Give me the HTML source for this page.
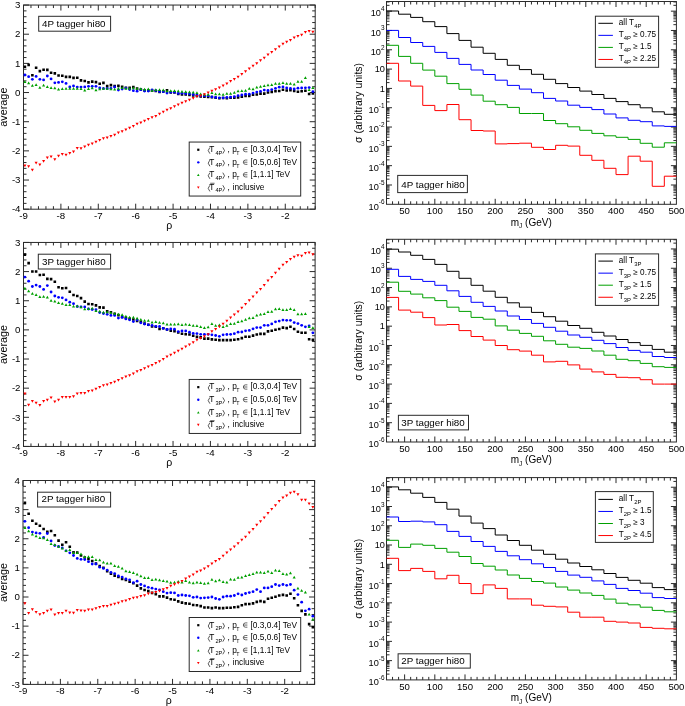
<!DOCTYPE html><html><head><meta charset="utf-8"><style>html,body{margin:0;padding:0;background:#fff;}svg{display:block;will-change:transform;}text{font-family:"Liberation Sans", sans-serif;fill:#000;}</style></head><body>
<svg width="685" height="706" viewBox="0 0 685 706">
<g>
<rect width="685" height="706" fill="#fff"/>
<rect x="23.50" y="5.05" width="291.70" height="204.15" fill="none" stroke="#2b2b2b" stroke-width="1"/>
<path d="M23.50 209.20v-5.50 M23.50 5.05v5.50 M30.98 209.20v-3.00 M30.98 5.05v3.00 M38.46 209.20v-3.00 M38.46 5.05v3.00 M45.94 209.20v-3.00 M45.94 5.05v3.00 M53.42 209.20v-3.00 M53.42 5.05v3.00 M60.90 209.20v-5.50 M60.90 5.05v5.50 M68.38 209.20v-3.00 M68.38 5.05v3.00 M75.86 209.20v-3.00 M75.86 5.05v3.00 M83.34 209.20v-3.00 M83.34 5.05v3.00 M90.82 209.20v-3.00 M90.82 5.05v3.00 M98.29 209.20v-5.50 M98.29 5.05v5.50 M105.77 209.20v-3.00 M105.77 5.05v3.00 M113.25 209.20v-3.00 M113.25 5.05v3.00 M120.73 209.20v-3.00 M120.73 5.05v3.00 M128.21 209.20v-3.00 M128.21 5.05v3.00 M135.69 209.20v-5.50 M135.69 5.05v5.50 M143.17 209.20v-3.00 M143.17 5.05v3.00 M150.65 209.20v-3.00 M150.65 5.05v3.00 M158.13 209.20v-3.00 M158.13 5.05v3.00 M165.61 209.20v-3.00 M165.61 5.05v3.00 M173.09 209.20v-5.50 M173.09 5.05v5.50 M180.57 209.20v-3.00 M180.57 5.05v3.00 M188.05 209.20v-3.00 M188.05 5.05v3.00 M195.53 209.20v-3.00 M195.53 5.05v3.00 M203.01 209.20v-3.00 M203.01 5.05v3.00 M210.49 209.20v-5.50 M210.49 5.05v5.50 M217.97 209.20v-3.00 M217.97 5.05v3.00 M225.45 209.20v-3.00 M225.45 5.05v3.00 M232.93 209.20v-3.00 M232.93 5.05v3.00 M240.41 209.20v-3.00 M240.41 5.05v3.00 M247.88 209.20v-5.50 M247.88 5.05v5.50 M255.36 209.20v-3.00 M255.36 5.05v3.00 M262.84 209.20v-3.00 M262.84 5.05v3.00 M270.32 209.20v-3.00 M270.32 5.05v3.00 M277.80 209.20v-3.00 M277.80 5.05v3.00 M285.28 209.20v-5.50 M285.28 5.05v5.50 M292.76 209.20v-3.00 M292.76 5.05v3.00 M300.24 209.20v-3.00 M300.24 5.05v3.00 M307.72 209.20v-3.00 M307.72 5.05v3.00 M315.20 209.20v-3.00 M315.20 5.05v3.00 M23.50 5.05h5.50 M315.20 5.05h-5.50 M23.50 10.88h3.00 M315.20 10.88h-3.00 M23.50 16.72h3.00 M315.20 16.72h-3.00 M23.50 22.55h3.00 M315.20 22.55h-3.00 M23.50 28.38h3.00 M315.20 28.38h-3.00 M23.50 34.21h5.50 M315.20 34.21h-5.50 M23.50 40.05h3.00 M315.20 40.05h-3.00 M23.50 45.88h3.00 M315.20 45.88h-3.00 M23.50 51.71h3.00 M315.20 51.71h-3.00 M23.50 57.55h3.00 M315.20 57.55h-3.00 M23.50 63.38h5.50 M315.20 63.38h-5.50 M23.50 69.21h3.00 M315.20 69.21h-3.00 M23.50 75.04h3.00 M315.20 75.04h-3.00 M23.50 80.88h3.00 M315.20 80.88h-3.00 M23.50 86.71h3.00 M315.20 86.71h-3.00 M23.50 92.54h5.50 M315.20 92.54h-5.50 M23.50 98.38h3.00 M315.20 98.38h-3.00 M23.50 104.21h3.00 M315.20 104.21h-3.00 M23.50 110.04h3.00 M315.20 110.04h-3.00 M23.50 115.87h3.00 M315.20 115.87h-3.00 M23.50 121.71h5.50 M315.20 121.71h-5.50 M23.50 127.54h3.00 M315.20 127.54h-3.00 M23.50 133.37h3.00 M315.20 133.37h-3.00 M23.50 139.21h3.00 M315.20 139.21h-3.00 M23.50 145.04h3.00 M315.20 145.04h-3.00 M23.50 150.87h5.50 M315.20 150.87h-5.50 M23.50 156.70h3.00 M315.20 156.70h-3.00 M23.50 162.54h3.00 M315.20 162.54h-3.00 M23.50 168.37h3.00 M315.20 168.37h-3.00 M23.50 174.20h3.00 M315.20 174.20h-3.00 M23.50 180.04h5.50 M315.20 180.04h-5.50 M23.50 185.87h3.00 M315.20 185.87h-3.00 M23.50 191.70h3.00 M315.20 191.70h-3.00 M23.50 197.53h3.00 M315.20 197.53h-3.00 M23.50 203.37h3.00 M315.20 203.37h-3.00 M23.50 209.20h5.50 M315.20 209.20h-5.50" stroke="#2b2b2b" stroke-width="1" fill="none"/>
<text x="23.50" y="218.90" font-size="9.7" text-anchor="middle">-9</text>
<text x="60.90" y="218.90" font-size="9.7" text-anchor="middle">-8</text>
<text x="98.29" y="218.90" font-size="9.7" text-anchor="middle">-7</text>
<text x="135.69" y="218.90" font-size="9.7" text-anchor="middle">-6</text>
<text x="173.09" y="218.90" font-size="9.7" text-anchor="middle">-5</text>
<text x="210.49" y="218.90" font-size="9.7" text-anchor="middle">-4</text>
<text x="247.88" y="218.90" font-size="9.7" text-anchor="middle">-3</text>
<text x="285.28" y="218.90" font-size="9.7" text-anchor="middle">-2</text>
<text x="20.50" y="8.25" font-size="9.7" text-anchor="end">3</text>
<text x="20.50" y="37.41" font-size="9.7" text-anchor="end">2</text>
<text x="20.50" y="66.58" font-size="9.7" text-anchor="end">1</text>
<text x="20.50" y="95.74" font-size="9.7" text-anchor="end">0</text>
<text x="20.50" y="124.91" font-size="9.7" text-anchor="end">-1</text>
<text x="20.50" y="154.07" font-size="9.7" text-anchor="end">-2</text>
<text x="20.50" y="183.24" font-size="9.7" text-anchor="end">-3</text>
<text x="20.50" y="212.40" font-size="9.7" text-anchor="end">-4</text>
<text x="169.35" y="228.70" font-size="10.5" text-anchor="middle">ρ</text>
<text x="0" y="0" font-size="10.8" text-anchor="middle" transform="translate(6.9 107.12) rotate(-90)">average</text>
<path d="M23.60 65.40h2.6v2.6h-2.6zM27.34 63.60h2.6v2.6h-2.6zM31.08 73.90h2.6v2.6h-2.6zM34.82 66.50h2.6v2.6h-2.6zM38.56 69.80h2.6v2.6h-2.6zM42.30 68.40h2.6v2.6h-2.6zM46.04 68.60h2.6v2.6h-2.6zM49.78 71.50h2.6v2.6h-2.6zM53.52 72.10h2.6v2.6h-2.6zM57.26 74.20h2.6v2.6h-2.6zM61.00 74.50h2.6v2.6h-2.6zM64.74 75.60h2.6v2.6h-2.6zM68.48 75.60h2.6v2.6h-2.6zM72.22 76.60h2.6v2.6h-2.6zM75.96 76.50h2.6v2.6h-2.6zM79.70 79.10h2.6v2.6h-2.6zM83.44 79.70h2.6v2.6h-2.6zM87.18 81.10h2.6v2.6h-2.6zM90.92 80.30h2.6v2.6h-2.6zM94.66 80.80h2.6v2.6h-2.6zM98.40 82.50h2.6v2.6h-2.6zM102.14 81.60h2.6v2.6h-2.6zM105.88 84.80h2.6v2.6h-2.6zM109.62 83.80h2.6v2.6h-2.6zM113.36 84.80h2.6v2.6h-2.6zM117.10 84.60h2.6v2.6h-2.6zM120.84 85.40h2.6v2.6h-2.6zM124.58 86.50h2.6v2.6h-2.6zM128.32 86.50h2.6v2.6h-2.6zM132.06 85.70h2.6v2.6h-2.6zM135.80 87.20h2.6v2.6h-2.6zM139.54 88.20h2.6v2.6h-2.6zM143.28 89.20h2.6v2.6h-2.6zM147.02 89.20h2.6v2.6h-2.6zM150.76 89.20h2.6v2.6h-2.6zM154.50 89.70h2.6v2.6h-2.6zM158.24 90.60h2.6v2.6h-2.6zM161.98 90.20h2.6v2.6h-2.6zM165.72 89.10h2.6v2.6h-2.6zM169.46 91.20h2.6v2.6h-2.6zM173.20 91.20h2.6v2.6h-2.6zM176.94 92.70h2.6v2.6h-2.6zM180.68 93.20h2.6v2.6h-2.6zM184.42 93.20h2.6v2.6h-2.6zM188.16 93.70h2.6v2.6h-2.6zM191.90 94.20h2.6v2.6h-2.6zM195.64 94.70h2.6v2.6h-2.6zM199.38 95.20h2.6v2.6h-2.6zM203.12 95.30h2.6v2.6h-2.6zM206.86 95.60h2.6v2.6h-2.6zM210.60 95.80h2.6v2.6h-2.6zM214.34 96.50h2.6v2.6h-2.6zM218.08 97.00h2.6v2.6h-2.6zM221.82 96.70h2.6v2.6h-2.6zM225.56 97.00h2.6v2.6h-2.6zM229.30 96.50h2.6v2.6h-2.6zM233.04 96.50h2.6v2.6h-2.6zM236.78 96.10h2.6v2.6h-2.6zM240.52 95.50h2.6v2.6h-2.6zM244.26 94.70h2.6v2.6h-2.6zM248.00 94.60h2.6v2.6h-2.6zM251.74 93.50h2.6v2.6h-2.6zM255.48 93.20h2.6v2.6h-2.6zM259.22 92.30h2.6v2.6h-2.6zM262.96 92.30h2.6v2.6h-2.6zM266.70 91.20h2.6v2.6h-2.6zM270.44 90.60h2.6v2.6h-2.6zM274.18 90.00h2.6v2.6h-2.6zM277.92 89.70h2.6v2.6h-2.6zM281.66 88.50h2.6v2.6h-2.6zM285.40 89.20h2.6v2.6h-2.6zM289.14 88.80h2.6v2.6h-2.6zM292.88 89.70h2.6v2.6h-2.6zM296.62 90.40h2.6v2.6h-2.6zM300.36 90.00h2.6v2.6h-2.6zM304.10 89.40h2.6v2.6h-2.6zM307.84 92.70h2.6v2.6h-2.6zM311.58 92.10h2.6v2.6h-2.6z" fill="#000"/>
<g fill="#0000ff"><circle cx="24.90" cy="75.00" r="1.42"/><circle cx="28.64" cy="76.70" r="1.42"/><circle cx="32.38" cy="79.30" r="1.42"/><circle cx="36.12" cy="76.40" r="1.42"/><circle cx="39.86" cy="79.30" r="1.42"/><circle cx="43.60" cy="79.90" r="1.42"/><circle cx="47.34" cy="76.00" r="1.42"/><circle cx="51.08" cy="78.90" r="1.42"/><circle cx="54.82" cy="82.80" r="1.42"/><circle cx="58.56" cy="82.40" r="1.42"/><circle cx="62.30" cy="81.80" r="1.42"/><circle cx="66.04" cy="83.40" r="1.42"/><circle cx="69.78" cy="86.90" r="1.42"/><circle cx="73.52" cy="85.90" r="1.42"/><circle cx="77.26" cy="87.10" r="1.42"/><circle cx="81.00" cy="87.10" r="1.42"/><circle cx="84.74" cy="86.90" r="1.42"/><circle cx="88.48" cy="86.30" r="1.42"/><circle cx="92.22" cy="86.30" r="1.42"/><circle cx="95.96" cy="86.30" r="1.42"/><circle cx="99.70" cy="88.00" r="1.42"/><circle cx="103.44" cy="88.50" r="1.42"/><circle cx="107.18" cy="88.50" r="1.42"/><circle cx="110.92" cy="88.50" r="1.42"/><circle cx="114.66" cy="87.00" r="1.42"/><circle cx="118.40" cy="90.00" r="1.42"/><circle cx="122.14" cy="89.10" r="1.42"/><circle cx="125.88" cy="88.10" r="1.42"/><circle cx="129.62" cy="89.60" r="1.42"/><circle cx="133.36" cy="90.70" r="1.42"/><circle cx="137.10" cy="91.20" r="1.42"/><circle cx="140.84" cy="89.70" r="1.42"/><circle cx="144.58" cy="91.00" r="1.42"/><circle cx="148.32" cy="91.00" r="1.42"/><circle cx="152.06" cy="90.00" r="1.42"/><circle cx="155.80" cy="90.60" r="1.42"/><circle cx="159.54" cy="91.50" r="1.42"/><circle cx="163.28" cy="91.70" r="1.42"/><circle cx="167.02" cy="93.00" r="1.42"/><circle cx="170.76" cy="92.20" r="1.42"/><circle cx="174.50" cy="92.20" r="1.42"/><circle cx="178.24" cy="93.40" r="1.42"/><circle cx="181.98" cy="93.20" r="1.42"/><circle cx="185.72" cy="93.50" r="1.42"/><circle cx="189.46" cy="93.90" r="1.42"/><circle cx="193.20" cy="94.50" r="1.42"/><circle cx="196.94" cy="95.10" r="1.42"/><circle cx="200.68" cy="95.90" r="1.42"/><circle cx="204.42" cy="95.90" r="1.42"/><circle cx="208.16" cy="95.90" r="1.42"/><circle cx="211.90" cy="96.90" r="1.42"/><circle cx="215.64" cy="97.40" r="1.42"/><circle cx="219.38" cy="97.80" r="1.42"/><circle cx="223.12" cy="97.80" r="1.42"/><circle cx="226.86" cy="97.40" r="1.42"/><circle cx="230.60" cy="97.10" r="1.42"/><circle cx="234.34" cy="96.60" r="1.42"/><circle cx="238.08" cy="95.70" r="1.42"/><circle cx="241.82" cy="95.00" r="1.42"/><circle cx="245.56" cy="94.20" r="1.42"/><circle cx="249.30" cy="94.20" r="1.42"/><circle cx="253.04" cy="93.10" r="1.42"/><circle cx="256.78" cy="92.10" r="1.42"/><circle cx="260.52" cy="91.30" r="1.42"/><circle cx="264.26" cy="90.10" r="1.42"/><circle cx="268.00" cy="90.50" r="1.42"/><circle cx="271.74" cy="89.60" r="1.42"/><circle cx="275.48" cy="88.40" r="1.42"/><circle cx="279.22" cy="87.20" r="1.42"/><circle cx="282.96" cy="86.90" r="1.42"/><circle cx="286.70" cy="88.00" r="1.42"/><circle cx="290.44" cy="88.40" r="1.42"/><circle cx="294.18" cy="89.00" r="1.42"/><circle cx="297.92" cy="88.20" r="1.42"/><circle cx="301.66" cy="88.00" r="1.42"/><circle cx="305.40" cy="87.80" r="1.42"/><circle cx="309.14" cy="87.60" r="1.42"/><circle cx="312.88" cy="91.70" r="1.42"/></g>
<path d="M24.90 80.15l1.55 2.75h-3.1zM28.64 81.55l1.55 2.75h-3.1zM32.38 84.05l1.55 2.75h-3.1zM36.12 83.35l1.55 2.75h-3.1zM39.86 85.95l1.55 2.75h-3.1zM43.60 83.65l1.55 2.75h-3.1zM47.34 85.15l1.55 2.75h-3.1zM51.08 86.35l1.55 2.75h-3.1zM54.82 86.55l1.55 2.75h-3.1zM58.56 87.75l1.55 2.75h-3.1zM62.30 87.15l1.55 2.75h-3.1zM66.04 86.95l1.55 2.75h-3.1zM69.78 86.95l1.55 2.75h-3.1zM73.52 86.95l1.55 2.75h-3.1zM77.26 86.95l1.55 2.75h-3.1zM81.00 87.15l1.55 2.75h-3.1zM84.74 88.65l1.55 2.75h-3.1zM88.48 87.15l1.55 2.75h-3.1zM92.22 86.55l1.55 2.75h-3.1zM95.96 88.45l1.55 2.75h-3.1zM99.70 87.55l1.55 2.75h-3.1zM103.44 87.05l1.55 2.75h-3.1zM107.18 87.05l1.55 2.75h-3.1zM110.92 87.45l1.55 2.75h-3.1zM114.66 87.75l1.55 2.75h-3.1zM118.40 87.05l1.55 2.75h-3.1zM122.14 86.35l1.55 2.75h-3.1zM125.88 87.05l1.55 2.75h-3.1zM129.62 87.05l1.55 2.75h-3.1zM133.36 86.55l1.55 2.75h-3.1zM137.10 87.05l1.55 2.75h-3.1zM140.84 87.15l1.55 2.75h-3.1zM144.58 87.85l1.55 2.75h-3.1zM148.32 87.45l1.55 2.75h-3.1zM152.06 88.95l1.55 2.75h-3.1zM155.80 88.25l1.55 2.75h-3.1zM159.54 88.35l1.55 2.75h-3.1zM163.28 88.55l1.55 2.75h-3.1zM167.02 89.55l1.55 2.75h-3.1zM170.76 89.35l1.55 2.75h-3.1zM174.50 89.35l1.55 2.75h-3.1zM178.24 89.55l1.55 2.75h-3.1zM181.98 89.95l1.55 2.75h-3.1zM185.72 90.15l1.55 2.75h-3.1zM189.46 90.55l1.55 2.75h-3.1zM193.20 90.75l1.55 2.75h-3.1zM196.94 91.35l1.55 2.75h-3.1zM200.68 92.45l1.55 2.75h-3.1zM204.42 93.05l1.55 2.75h-3.1zM208.16 93.05l1.55 2.75h-3.1zM211.90 91.35l1.55 2.75h-3.1zM215.64 92.45l1.55 2.75h-3.1zM219.38 92.45l1.55 2.75h-3.1zM223.12 93.05l1.55 2.75h-3.1zM226.86 91.95l1.55 2.75h-3.1zM230.60 91.95l1.55 2.75h-3.1zM234.34 91.05l1.55 2.75h-3.1zM238.08 89.55l1.55 2.75h-3.1zM241.82 89.25l1.55 2.75h-3.1zM245.56 89.05l1.55 2.75h-3.1zM249.30 86.95l1.55 2.75h-3.1zM253.04 87.55l1.55 2.75h-3.1zM256.78 85.75l1.55 2.75h-3.1zM260.52 84.95l1.55 2.75h-3.1zM264.26 84.35l1.55 2.75h-3.1zM268.00 83.45l1.55 2.75h-3.1zM271.74 83.25l1.55 2.75h-3.1zM275.48 82.05l1.55 2.75h-3.1zM279.22 82.05l1.55 2.75h-3.1zM282.96 81.35l1.55 2.75h-3.1zM286.70 82.05l1.55 2.75h-3.1zM290.44 82.05l1.55 2.75h-3.1zM294.18 82.85l1.55 2.75h-3.1zM297.92 79.95l1.55 2.75h-3.1zM301.66 79.95l1.55 2.75h-3.1zM305.40 76.15l1.55 2.75h-3.1zM309.14 88.15l1.55 2.75h-3.1zM312.88 86.15l1.55 2.75h-3.1z" fill="#00a000"/>
<path d="M24.90 167.35l1.55 -2.75h-3.1zM28.64 168.05l1.55 -2.75h-3.1zM32.38 171.55l1.55 -2.75h-3.1zM36.12 164.55l1.55 -2.75h-3.1zM39.86 166.15l1.55 -2.75h-3.1zM43.60 162.65l1.55 -2.75h-3.1zM47.34 159.35l1.55 -2.75h-3.1zM51.08 158.25l1.55 -2.75h-3.1zM54.82 161.05l1.55 -2.75h-3.1zM58.56 157.55l1.55 -2.75h-3.1zM62.30 155.85l1.55 -2.75h-3.1zM66.04 156.55l1.55 -2.75h-3.1zM69.78 154.75l1.55 -2.75h-3.1zM73.52 153.35l1.55 -2.75h-3.1zM77.26 149.85l1.55 -2.75h-3.1zM81.00 150.05l1.55 -2.75h-3.1zM84.74 148.15l1.55 -2.75h-3.1zM88.48 146.55l1.55 -2.75h-3.1zM92.22 145.15l1.55 -2.75h-3.1zM95.96 143.55l1.55 -2.75h-3.1zM99.70 141.85l1.55 -2.75h-3.1zM103.44 140.05l1.55 -2.75h-3.1zM107.18 139.35l1.55 -2.75h-3.1zM110.92 137.65l1.55 -2.75h-3.1zM114.66 136.45l1.55 -2.75h-3.1zM118.40 134.15l1.55 -2.75h-3.1zM122.14 132.95l1.55 -2.75h-3.1zM125.88 131.15l1.55 -2.75h-3.1zM129.62 129.45l1.55 -2.75h-3.1zM133.36 127.85l1.55 -2.75h-3.1zM137.10 125.55l1.55 -2.75h-3.1zM140.84 124.35l1.55 -2.75h-3.1zM144.58 122.45l1.55 -2.75h-3.1zM148.32 120.65l1.55 -2.75h-3.1zM152.06 118.95l1.55 -2.75h-3.1zM155.80 117.85l1.55 -2.75h-3.1zM159.54 115.45l1.55 -2.75h-3.1zM163.28 113.55l1.55 -2.75h-3.1zM167.02 111.45l1.55 -2.75h-3.1zM170.76 110.05l1.55 -2.75h-3.1zM174.50 107.95l1.55 -2.75h-3.1zM178.24 106.15l1.55 -2.75h-3.1zM181.98 104.45l1.55 -2.75h-3.1zM185.72 102.95l1.55 -2.75h-3.1zM189.46 101.45l1.55 -2.75h-3.1zM193.20 99.75l1.55 -2.75h-3.1zM196.94 98.05l1.55 -2.75h-3.1zM200.68 97.35l1.55 -2.75h-3.1zM204.42 95.95l1.55 -2.75h-3.1zM208.16 94.25l1.55 -2.75h-3.1zM211.90 92.45l1.55 -2.75h-3.1zM215.64 91.05l1.55 -2.75h-3.1zM219.38 89.35l1.55 -2.75h-3.1zM223.12 87.25l1.55 -2.75h-3.1zM226.86 85.25l1.55 -2.75h-3.1zM230.60 82.85l1.55 -2.75h-3.1zM234.34 80.75l1.55 -2.75h-3.1zM238.08 78.45l1.55 -2.75h-3.1zM241.82 75.85l1.55 -2.75h-3.1zM245.56 73.05l1.55 -2.75h-3.1zM249.30 70.35l1.55 -2.75h-3.1zM253.04 67.45l1.55 -2.75h-3.1zM256.78 65.05l1.55 -2.75h-3.1zM260.52 62.05l1.55 -2.75h-3.1zM264.26 59.45l1.55 -2.75h-3.1zM268.00 56.25l1.55 -2.75h-3.1zM271.74 53.65l1.55 -2.75h-3.1zM275.48 51.05l1.55 -2.75h-3.1zM279.22 48.35l1.55 -2.75h-3.1zM282.96 45.45l1.55 -2.75h-3.1zM286.70 43.45l1.55 -2.75h-3.1zM290.44 41.75l1.55 -2.75h-3.1zM294.18 39.35l1.55 -2.75h-3.1zM297.92 37.85l1.55 -2.75h-3.1zM301.66 36.45l1.55 -2.75h-3.1zM305.40 33.75l1.55 -2.75h-3.1zM309.14 32.65l1.55 -2.75h-3.1zM312.88 33.55l1.55 -2.75h-3.1z" fill="#ff0000"/>
<rect x="38.70" y="16.30" width="71.90" height="14.90" fill="#fff" stroke="#2b2b2b" stroke-width="1"/>
<text x="42.00" y="26.70" font-size="9.8">4P tagger hi80</text>
<rect x="189.2" y="142.05" width="111.5" height="54.0" fill="#fff" stroke="#2b2b2b" stroke-width="1"/>
<rect x="197.20" y="148.65" width="2.2" height="2.2" fill="#000"/>
<circle cx="198.3" cy="162.35" r="1.2" fill="#0000ff"/>
<path d="M198.3 173.75l1.3 2.3h-2.6z" fill="#00a000"/>
<path d="M198.3 188.75l1.3 -2.3h-2.6z" fill="#ff0000"/>
<path d="M209.9 147.45L208.2 150.55L209.9 153.65M222.8 147.45L224.5 150.55L222.8 153.65" stroke="#000" stroke-width="0.65" fill="none"/>
<text x="209.3" y="152.05" font-size="8.3">T</text>
<text x="215.4" y="154.65" font-size="5.6">4P</text>
<text x="227.6" y="152.05" font-size="8.3">,</text>
<text x="232.3" y="152.05" font-size="8.3">p</text>
<text x="236.2" y="155.05" font-size="5.3">T</text>
<path d="M247.40 147.45h-1.9a2.15 2.15 0 0 0 0 4.3h1.9M247.40 149.60h-3.8" stroke="#000" stroke-width="0.6" fill="none"/>
<text x="250.5" y="152.05" font-size="8.3">[0.3,0.4] TeV</text>
<path d="M209.9 160.05L208.2 163.15L209.9 166.25M222.8 160.05L224.5 163.15L222.8 166.25" stroke="#000" stroke-width="0.65" fill="none"/>
<text x="209.3" y="164.65" font-size="8.3">T</text>
<text x="215.4" y="167.25" font-size="5.6">4P</text>
<text x="227.6" y="164.65" font-size="8.3">,</text>
<text x="232.3" y="164.65" font-size="8.3">p</text>
<text x="236.2" y="167.65" font-size="5.3">T</text>
<path d="M247.40 160.05h-1.9a2.15 2.15 0 0 0 0 4.3h1.9M247.40 162.20h-3.8" stroke="#000" stroke-width="0.6" fill="none"/>
<text x="250.5" y="164.65" font-size="8.3">[0.5,0.6] TeV</text>
<path d="M209.9 172.65L208.2 175.75L209.9 178.85M222.8 172.65L224.5 175.75L222.8 178.85" stroke="#000" stroke-width="0.65" fill="none"/>
<text x="209.3" y="177.25" font-size="8.3">T</text>
<text x="215.4" y="179.85" font-size="5.6">4P</text>
<text x="227.6" y="177.25" font-size="8.3">,</text>
<text x="232.3" y="177.25" font-size="8.3">p</text>
<text x="236.2" y="180.25" font-size="5.3">T</text>
<path d="M247.40 172.65h-1.9a2.15 2.15 0 0 0 0 4.3h1.9M247.40 174.80h-3.8" stroke="#000" stroke-width="0.6" fill="none"/>
<text x="250.5" y="177.25" font-size="8.3">[1,1.1] TeV</text>
<path d="M209.9 185.25L208.2 188.35L209.9 191.45M222.8 185.25L224.5 188.35L222.8 191.45" stroke="#000" stroke-width="0.65" fill="none"/>
<text x="209.3" y="189.85" font-size="8.3">T</text>
<text x="215.4" y="192.45" font-size="5.6">4P</text>
<text x="227.6" y="189.85" font-size="8.3">,</text>
<path d="M210.2 183.25h4.4" stroke="#000" stroke-width="0.6"/>
<text x="232.6" y="189.85" font-size="8.3">inclusive</text>
<rect x="23.50" y="242.45" width="291.60" height="204.00" fill="none" stroke="#2b2b2b" stroke-width="1"/>
<path d="M23.50 446.45v-5.50 M23.50 242.45v5.50 M30.98 446.45v-3.00 M30.98 242.45v3.00 M38.45 446.45v-3.00 M38.45 242.45v3.00 M45.93 446.45v-3.00 M45.93 242.45v3.00 M53.41 446.45v-3.00 M53.41 242.45v3.00 M60.88 446.45v-5.50 M60.88 242.45v5.50 M68.36 446.45v-3.00 M68.36 242.45v3.00 M75.84 446.45v-3.00 M75.84 242.45v3.00 M83.32 446.45v-3.00 M83.32 242.45v3.00 M90.79 446.45v-3.00 M90.79 242.45v3.00 M98.27 446.45v-5.50 M98.27 242.45v5.50 M105.75 446.45v-3.00 M105.75 242.45v3.00 M113.22 446.45v-3.00 M113.22 242.45v3.00 M120.70 446.45v-3.00 M120.70 242.45v3.00 M128.18 446.45v-3.00 M128.18 242.45v3.00 M135.65 446.45v-5.50 M135.65 242.45v5.50 M143.13 446.45v-3.00 M143.13 242.45v3.00 M150.61 446.45v-3.00 M150.61 242.45v3.00 M158.08 446.45v-3.00 M158.08 242.45v3.00 M165.56 446.45v-3.00 M165.56 242.45v3.00 M173.04 446.45v-5.50 M173.04 242.45v5.50 M180.52 446.45v-3.00 M180.52 242.45v3.00 M187.99 446.45v-3.00 M187.99 242.45v3.00 M195.47 446.45v-3.00 M195.47 242.45v3.00 M202.95 446.45v-3.00 M202.95 242.45v3.00 M210.42 446.45v-5.50 M210.42 242.45v5.50 M217.90 446.45v-3.00 M217.90 242.45v3.00 M225.38 446.45v-3.00 M225.38 242.45v3.00 M232.85 446.45v-3.00 M232.85 242.45v3.00 M240.33 446.45v-3.00 M240.33 242.45v3.00 M247.81 446.45v-5.50 M247.81 242.45v5.50 M255.28 446.45v-3.00 M255.28 242.45v3.00 M262.76 446.45v-3.00 M262.76 242.45v3.00 M270.24 446.45v-3.00 M270.24 242.45v3.00 M277.72 446.45v-3.00 M277.72 242.45v3.00 M285.19 446.45v-5.50 M285.19 242.45v5.50 M292.67 446.45v-3.00 M292.67 242.45v3.00 M300.15 446.45v-3.00 M300.15 242.45v3.00 M307.62 446.45v-3.00 M307.62 242.45v3.00 M315.10 446.45v-3.00 M315.10 242.45v3.00 M23.50 242.45h5.50 M315.10 242.45h-5.50 M23.50 248.28h3.00 M315.10 248.28h-3.00 M23.50 254.11h3.00 M315.10 254.11h-3.00 M23.50 259.94h3.00 M315.10 259.94h-3.00 M23.50 265.76h3.00 M315.10 265.76h-3.00 M23.50 271.59h5.50 M315.10 271.59h-5.50 M23.50 277.42h3.00 M315.10 277.42h-3.00 M23.50 283.25h3.00 M315.10 283.25h-3.00 M23.50 289.08h3.00 M315.10 289.08h-3.00 M23.50 294.91h3.00 M315.10 294.91h-3.00 M23.50 300.74h5.50 M315.10 300.74h-5.50 M23.50 306.56h3.00 M315.10 306.56h-3.00 M23.50 312.39h3.00 M315.10 312.39h-3.00 M23.50 318.22h3.00 M315.10 318.22h-3.00 M23.50 324.05h3.00 M315.10 324.05h-3.00 M23.50 329.88h5.50 M315.10 329.88h-5.50 M23.50 335.71h3.00 M315.10 335.71h-3.00 M23.50 341.54h3.00 M315.10 341.54h-3.00 M23.50 347.36h3.00 M315.10 347.36h-3.00 M23.50 353.19h3.00 M315.10 353.19h-3.00 M23.50 359.02h5.50 M315.10 359.02h-5.50 M23.50 364.85h3.00 M315.10 364.85h-3.00 M23.50 370.68h3.00 M315.10 370.68h-3.00 M23.50 376.51h3.00 M315.10 376.51h-3.00 M23.50 382.34h3.00 M315.10 382.34h-3.00 M23.50 388.16h5.50 M315.10 388.16h-5.50 M23.50 393.99h3.00 M315.10 393.99h-3.00 M23.50 399.82h3.00 M315.10 399.82h-3.00 M23.50 405.65h3.00 M315.10 405.65h-3.00 M23.50 411.48h3.00 M315.10 411.48h-3.00 M23.50 417.31h5.50 M315.10 417.31h-5.50 M23.50 423.14h3.00 M315.10 423.14h-3.00 M23.50 428.96h3.00 M315.10 428.96h-3.00 M23.50 434.79h3.00 M315.10 434.79h-3.00 M23.50 440.62h3.00 M315.10 440.62h-3.00 M23.50 446.45h5.50 M315.10 446.45h-5.50" stroke="#2b2b2b" stroke-width="1" fill="none"/>
<text x="23.50" y="456.15" font-size="9.7" text-anchor="middle">-9</text>
<text x="60.88" y="456.15" font-size="9.7" text-anchor="middle">-8</text>
<text x="98.27" y="456.15" font-size="9.7" text-anchor="middle">-7</text>
<text x="135.65" y="456.15" font-size="9.7" text-anchor="middle">-6</text>
<text x="173.04" y="456.15" font-size="9.7" text-anchor="middle">-5</text>
<text x="210.42" y="456.15" font-size="9.7" text-anchor="middle">-4</text>
<text x="247.81" y="456.15" font-size="9.7" text-anchor="middle">-3</text>
<text x="285.19" y="456.15" font-size="9.7" text-anchor="middle">-2</text>
<text x="20.50" y="245.65" font-size="9.7" text-anchor="end">3</text>
<text x="20.50" y="274.79" font-size="9.7" text-anchor="end">2</text>
<text x="20.50" y="303.94" font-size="9.7" text-anchor="end">1</text>
<text x="20.50" y="333.08" font-size="9.7" text-anchor="end">0</text>
<text x="20.50" y="362.22" font-size="9.7" text-anchor="end">-1</text>
<text x="20.50" y="391.36" font-size="9.7" text-anchor="end">-2</text>
<text x="20.50" y="420.51" font-size="9.7" text-anchor="end">-3</text>
<text x="20.50" y="449.65" font-size="9.7" text-anchor="end">-4</text>
<text x="169.30" y="465.95" font-size="10.5" text-anchor="middle">ρ</text>
<text x="0" y="0" font-size="10.8" text-anchor="middle" transform="translate(6.9 344.45) rotate(-90)">average</text>
<path d="M23.60 253.30h2.6v2.6h-2.6zM27.34 261.80h2.6v2.6h-2.6zM31.08 270.20h2.6v2.6h-2.6zM34.82 270.20h2.6v2.6h-2.6zM38.56 273.70h2.6v2.6h-2.6zM42.30 273.50h2.6v2.6h-2.6zM46.04 277.60h2.6v2.6h-2.6zM49.78 277.80h2.6v2.6h-2.6zM53.52 280.50h2.6v2.6h-2.6zM57.26 286.00h2.6v2.6h-2.6zM61.00 286.90h2.6v2.6h-2.6zM64.74 286.70h2.6v2.6h-2.6zM68.48 290.40h2.6v2.6h-2.6zM72.22 293.70h2.6v2.6h-2.6zM75.96 294.70h2.6v2.6h-2.6zM79.70 296.80h2.6v2.6h-2.6zM83.44 300.30h2.6v2.6h-2.6zM87.18 302.70h2.6v2.6h-2.6zM90.92 303.00h2.6v2.6h-2.6zM94.66 304.10h2.6v2.6h-2.6zM98.40 306.10h2.6v2.6h-2.6zM102.14 306.30h2.6v2.6h-2.6zM105.88 310.10h2.6v2.6h-2.6zM109.62 311.00h2.6v2.6h-2.6zM113.36 312.40h2.6v2.6h-2.6zM117.10 313.80h2.6v2.6h-2.6zM120.84 315.70h2.6v2.6h-2.6zM124.58 316.50h2.6v2.6h-2.6zM128.32 317.60h2.6v2.6h-2.6zM132.06 318.20h2.6v2.6h-2.6zM135.80 319.60h2.6v2.6h-2.6zM139.54 320.60h2.6v2.6h-2.6zM143.28 322.30h2.6v2.6h-2.6zM147.02 323.50h2.6v2.6h-2.6zM150.76 325.20h2.6v2.6h-2.6zM154.50 325.50h2.6v2.6h-2.6zM158.24 327.60h2.6v2.6h-2.6zM161.98 327.00h2.6v2.6h-2.6zM165.72 328.20h2.6v2.6h-2.6zM169.46 329.40h2.6v2.6h-2.6zM173.20 329.80h2.6v2.6h-2.6zM176.94 331.20h2.6v2.6h-2.6zM180.68 332.40h2.6v2.6h-2.6zM184.42 333.00h2.6v2.6h-2.6zM188.16 333.20h2.6v2.6h-2.6zM191.90 334.40h2.6v2.6h-2.6zM195.64 335.60h2.6v2.6h-2.6zM199.38 336.10h2.6v2.6h-2.6zM203.12 337.30h2.6v2.6h-2.6zM206.86 337.30h2.6v2.6h-2.6zM210.60 338.10h2.6v2.6h-2.6zM214.34 338.50h2.6v2.6h-2.6zM218.08 338.80h2.6v2.6h-2.6zM221.82 338.80h2.6v2.6h-2.6zM225.56 338.80h2.6v2.6h-2.6zM229.30 338.80h2.6v2.6h-2.6zM233.04 338.50h2.6v2.6h-2.6zM236.78 337.90h2.6v2.6h-2.6zM240.52 336.80h2.6v2.6h-2.6zM244.26 335.50h2.6v2.6h-2.6zM248.00 335.50h2.6v2.6h-2.6zM251.74 334.30h2.6v2.6h-2.6zM255.48 333.20h2.6v2.6h-2.6zM259.22 332.60h2.6v2.6h-2.6zM262.96 332.60h2.6v2.6h-2.6zM266.70 330.10h2.6v2.6h-2.6zM270.44 329.40h2.6v2.6h-2.6zM274.18 328.40h2.6v2.6h-2.6zM277.92 327.70h2.6v2.6h-2.6zM281.66 326.30h2.6v2.6h-2.6zM285.40 326.80h2.6v2.6h-2.6zM289.14 325.50h2.6v2.6h-2.6zM292.88 327.70h2.6v2.6h-2.6zM296.62 330.40h2.6v2.6h-2.6zM300.36 331.50h2.6v2.6h-2.6zM304.10 331.50h2.6v2.6h-2.6zM307.84 337.90h2.6v2.6h-2.6zM311.58 338.60h2.6v2.6h-2.6z" fill="#000"/>
<g fill="#0000ff"><circle cx="24.90" cy="277.10" r="1.42"/><circle cx="28.64" cy="281.20" r="1.42"/><circle cx="32.38" cy="286.50" r="1.42"/><circle cx="36.12" cy="285.10" r="1.42"/><circle cx="39.86" cy="286.50" r="1.42"/><circle cx="43.60" cy="289.40" r="1.42"/><circle cx="47.34" cy="285.60" r="1.42"/><circle cx="51.08" cy="292.00" r="1.42"/><circle cx="54.82" cy="296.00" r="1.42"/><circle cx="58.56" cy="297.30" r="1.42"/><circle cx="62.30" cy="297.80" r="1.42"/><circle cx="66.04" cy="299.90" r="1.42"/><circle cx="69.78" cy="302.20" r="1.42"/><circle cx="73.52" cy="303.70" r="1.42"/><circle cx="77.26" cy="306.50" r="1.42"/><circle cx="81.00" cy="306.90" r="1.42"/><circle cx="84.74" cy="306.90" r="1.42"/><circle cx="88.48" cy="309.00" r="1.42"/><circle cx="92.22" cy="309.50" r="1.42"/><circle cx="95.96" cy="309.70" r="1.42"/><circle cx="99.70" cy="312.50" r="1.42"/><circle cx="103.44" cy="313.50" r="1.42"/><circle cx="107.18" cy="314.30" r="1.42"/><circle cx="110.92" cy="315.40" r="1.42"/><circle cx="114.66" cy="315.40" r="1.42"/><circle cx="118.40" cy="318.10" r="1.42"/><circle cx="122.14" cy="317.40" r="1.42"/><circle cx="125.88" cy="318.90" r="1.42"/><circle cx="129.62" cy="319.80" r="1.42"/><circle cx="133.36" cy="321.60" r="1.42"/><circle cx="137.10" cy="320.10" r="1.42"/><circle cx="140.84" cy="322.80" r="1.42"/><circle cx="144.58" cy="324.00" r="1.42"/><circle cx="148.32" cy="324.80" r="1.42"/><circle cx="152.06" cy="325.40" r="1.42"/><circle cx="155.80" cy="326.30" r="1.42"/><circle cx="159.54" cy="326.50" r="1.42"/><circle cx="163.28" cy="328.30" r="1.42"/><circle cx="167.02" cy="329.50" r="1.42"/><circle cx="170.76" cy="329.00" r="1.42"/><circle cx="174.50" cy="329.20" r="1.42"/><circle cx="178.24" cy="331.60" r="1.42"/><circle cx="181.98" cy="331.00" r="1.42"/><circle cx="185.72" cy="331.00" r="1.42"/><circle cx="189.46" cy="332.20" r="1.42"/><circle cx="193.20" cy="333.40" r="1.42"/><circle cx="196.94" cy="333.60" r="1.42"/><circle cx="200.68" cy="334.30" r="1.42"/><circle cx="204.42" cy="334.30" r="1.42"/><circle cx="208.16" cy="334.30" r="1.42"/><circle cx="211.90" cy="334.80" r="1.42"/><circle cx="215.64" cy="335.50" r="1.42"/><circle cx="219.38" cy="336.30" r="1.42"/><circle cx="223.12" cy="334.80" r="1.42"/><circle cx="226.86" cy="334.50" r="1.42"/><circle cx="230.60" cy="334.30" r="1.42"/><circle cx="234.34" cy="333.70" r="1.42"/><circle cx="238.08" cy="332.20" r="1.42"/><circle cx="241.82" cy="332.00" r="1.42"/><circle cx="245.56" cy="330.80" r="1.42"/><circle cx="249.30" cy="330.40" r="1.42"/><circle cx="253.04" cy="328.80" r="1.42"/><circle cx="256.78" cy="327.60" r="1.42"/><circle cx="260.52" cy="327.60" r="1.42"/><circle cx="264.26" cy="325.30" r="1.42"/><circle cx="268.00" cy="325.30" r="1.42"/><circle cx="271.74" cy="323.90" r="1.42"/><circle cx="275.48" cy="321.80" r="1.42"/><circle cx="279.22" cy="321.10" r="1.42"/><circle cx="282.96" cy="320.10" r="1.42"/><circle cx="286.70" cy="320.30" r="1.42"/><circle cx="290.44" cy="320.30" r="1.42"/><circle cx="294.18" cy="322.60" r="1.42"/><circle cx="297.92" cy="323.60" r="1.42"/><circle cx="301.66" cy="325.30" r="1.42"/><circle cx="305.40" cy="326.80" r="1.42"/><circle cx="309.14" cy="326.00" r="1.42"/><circle cx="312.88" cy="332.80" r="1.42"/></g>
<path d="M24.90 286.75l1.55 2.75h-3.1zM28.64 289.45l1.55 2.75h-3.1zM32.38 292.05l1.55 2.75h-3.1zM36.12 293.15l1.55 2.75h-3.1zM39.86 295.25l1.55 2.75h-3.1zM43.60 294.95l1.55 2.75h-3.1zM47.34 295.75l1.55 2.75h-3.1zM51.08 299.05l1.55 2.75h-3.1zM54.82 299.85l1.55 2.75h-3.1zM58.56 301.35l1.55 2.75h-3.1zM62.30 301.95l1.55 2.75h-3.1zM66.04 303.35l1.55 2.75h-3.1zM69.78 303.15l1.55 2.75h-3.1zM73.52 304.85l1.55 2.75h-3.1zM77.26 304.55l1.55 2.75h-3.1zM81.00 305.45l1.55 2.75h-3.1zM84.74 307.55l1.55 2.75h-3.1zM88.48 307.15l1.55 2.75h-3.1zM92.22 306.65l1.55 2.75h-3.1zM95.96 309.15l1.55 2.75h-3.1zM99.70 309.75l1.55 2.75h-3.1zM103.44 310.85l1.55 2.75h-3.1zM107.18 310.55l1.55 2.75h-3.1zM110.92 311.05l1.55 2.75h-3.1zM114.66 312.05l1.55 2.75h-3.1zM118.40 312.85l1.55 2.75h-3.1zM122.14 313.15l1.55 2.75h-3.1zM125.88 314.85l1.55 2.75h-3.1zM129.62 315.75l1.55 2.75h-3.1zM133.36 315.75l1.55 2.75h-3.1zM137.10 316.65l1.55 2.75h-3.1zM140.84 318.05l1.55 2.75h-3.1zM144.58 319.05l1.55 2.75h-3.1zM148.32 319.05l1.55 2.75h-3.1zM152.06 320.65l1.55 2.75h-3.1zM155.80 320.15l1.55 2.75h-3.1zM159.54 320.95l1.55 2.75h-3.1zM163.28 321.55l1.55 2.75h-3.1zM167.02 322.75l1.55 2.75h-3.1zM170.76 322.75l1.55 2.75h-3.1zM174.50 322.75l1.55 2.75h-3.1zM178.24 322.55l1.55 2.75h-3.1zM181.98 323.15l1.55 2.75h-3.1zM185.72 322.75l1.55 2.75h-3.1zM189.46 323.15l1.55 2.75h-3.1zM193.20 323.95l1.55 2.75h-3.1zM196.94 324.35l1.55 2.75h-3.1zM200.68 325.15l1.55 2.75h-3.1zM204.42 326.35l1.55 2.75h-3.1zM208.16 325.45l1.55 2.75h-3.1zM211.90 322.35l1.55 2.75h-3.1zM215.64 323.95l1.55 2.75h-3.1zM219.38 323.45l1.55 2.75h-3.1zM223.12 325.15l1.55 2.75h-3.1zM226.86 323.95l1.55 2.75h-3.1zM230.60 322.35l1.55 2.75h-3.1zM234.34 321.95l1.55 2.75h-3.1zM238.08 320.25l1.55 2.75h-3.1zM241.82 319.45l1.55 2.75h-3.1zM245.56 318.05l1.55 2.75h-3.1zM249.30 316.45l1.55 2.75h-3.1zM253.04 316.15l1.55 2.75h-3.1zM256.78 313.65l1.55 2.75h-3.1zM260.52 312.65l1.55 2.75h-3.1zM264.26 312.25l1.55 2.75h-3.1zM268.00 310.35l1.55 2.75h-3.1zM271.74 310.05l1.55 2.75h-3.1zM275.48 307.55l1.55 2.75h-3.1zM279.22 307.25l1.55 2.75h-3.1zM282.96 308.25l1.55 2.75h-3.1zM286.70 308.35l1.55 2.75h-3.1zM290.44 307.25l1.55 2.75h-3.1zM294.18 308.35l1.55 2.75h-3.1zM297.92 312.55l1.55 2.75h-3.1zM301.66 312.55l1.55 2.75h-3.1zM305.40 312.25l1.55 2.75h-3.1zM309.14 325.35l1.55 2.75h-3.1zM312.88 326.35l1.55 2.75h-3.1z" fill="#00a000"/>
<path d="M24.90 395.15l1.55 -2.75h-3.1zM28.64 406.45l1.55 -2.75h-3.1zM32.38 402.65l1.55 -2.75h-3.1zM36.12 404.55l1.55 -2.75h-3.1zM39.86 406.85l1.55 -2.75h-3.1zM43.60 402.65l1.55 -2.75h-3.1zM47.34 401.45l1.55 -2.75h-3.1zM51.08 399.15l1.55 -2.75h-3.1zM54.82 403.35l1.55 -2.75h-3.1zM58.56 401.45l1.55 -2.75h-3.1zM62.30 398.65l1.55 -2.75h-3.1zM66.04 398.65l1.55 -2.75h-3.1zM69.78 398.65l1.55 -2.75h-3.1zM73.52 397.95l1.55 -2.75h-3.1zM77.26 395.15l1.55 -2.75h-3.1zM81.00 394.75l1.55 -2.75h-3.1zM84.74 394.75l1.55 -2.75h-3.1zM88.48 392.85l1.55 -2.75h-3.1zM92.22 392.35l1.55 -2.75h-3.1zM95.96 390.55l1.55 -2.75h-3.1zM99.70 388.85l1.55 -2.75h-3.1zM103.44 387.05l1.55 -2.75h-3.1zM107.18 386.35l1.55 -2.75h-3.1zM110.92 384.65l1.55 -2.75h-3.1zM114.66 383.55l1.55 -2.75h-3.1zM118.40 381.65l1.55 -2.75h-3.1zM122.14 380.05l1.55 -2.75h-3.1zM125.88 378.35l1.55 -2.75h-3.1zM129.62 376.95l1.55 -2.75h-3.1zM133.36 375.35l1.55 -2.75h-3.1zM137.10 372.95l1.55 -2.75h-3.1zM140.84 371.85l1.55 -2.75h-3.1zM144.58 369.95l1.55 -2.75h-3.1zM148.32 368.35l1.55 -2.75h-3.1zM152.06 366.65l1.55 -2.75h-3.1zM155.80 364.85l1.55 -2.75h-3.1zM159.54 362.95l1.55 -2.75h-3.1zM163.28 360.65l1.55 -2.75h-3.1zM167.02 358.25l1.55 -2.75h-3.1zM170.76 356.55l1.55 -2.75h-3.1zM174.50 354.45l1.55 -2.75h-3.1zM178.24 352.45l1.55 -2.75h-3.1zM181.98 350.55l1.55 -2.75h-3.1zM185.72 348.25l1.55 -2.75h-3.1zM189.46 346.15l1.55 -2.75h-3.1zM193.20 343.95l1.55 -2.75h-3.1zM196.94 341.55l1.55 -2.75h-3.1zM200.68 339.85l1.55 -2.75h-3.1zM204.42 338.05l1.55 -2.75h-3.1zM208.16 335.95l1.55 -2.75h-3.1zM211.90 333.05l1.55 -2.75h-3.1zM215.64 330.75l1.55 -2.75h-3.1zM219.38 328.35l1.55 -2.75h-3.1zM223.12 325.45l1.55 -2.75h-3.1zM226.86 322.55l1.55 -2.75h-3.1zM230.60 319.35l1.55 -2.75h-3.1zM234.34 316.35l1.55 -2.75h-3.1zM238.08 313.25l1.55 -2.75h-3.1zM241.82 309.45l1.55 -2.75h-3.1zM245.56 305.65l1.55 -2.75h-3.1zM249.30 301.95l1.55 -2.75h-3.1zM253.04 298.15l1.55 -2.75h-3.1zM256.78 294.35l1.55 -2.75h-3.1zM260.52 290.65l1.55 -2.75h-3.1zM264.26 286.85l1.55 -2.75h-3.1zM268.00 282.25l1.55 -2.75h-3.1zM271.74 278.75l1.55 -2.75h-3.1zM275.48 274.45l1.55 -2.75h-3.1zM279.22 270.55l1.55 -2.75h-3.1zM282.96 266.55l1.55 -2.75h-3.1zM286.70 263.75l1.55 -2.75h-3.1zM290.44 260.65l1.55 -2.75h-3.1zM294.18 258.45l1.55 -2.75h-3.1zM297.92 257.05l1.55 -2.75h-3.1zM301.66 257.45l1.55 -2.75h-3.1zM305.40 254.65l1.55 -2.75h-3.1zM309.14 254.25l1.55 -2.75h-3.1zM312.88 256.05l1.55 -2.75h-3.1z" fill="#ff0000"/>
<rect x="38.30" y="254.20" width="72.30" height="14.80" fill="#fff" stroke="#2b2b2b" stroke-width="1"/>
<text x="42.10" y="264.70" font-size="9.8">3P tagger hi80</text>
<rect x="189.2" y="379.45" width="111.5" height="54.0" fill="#fff" stroke="#2b2b2b" stroke-width="1"/>
<rect x="197.20" y="386.05" width="2.2" height="2.2" fill="#000"/>
<circle cx="198.3" cy="399.75" r="1.2" fill="#0000ff"/>
<path d="M198.3 411.15l1.3 2.3h-2.6z" fill="#00a000"/>
<path d="M198.3 426.15l1.3 -2.3h-2.6z" fill="#ff0000"/>
<path d="M209.9 384.85L208.2 387.95L209.9 391.05M222.8 384.85L224.5 387.95L222.8 391.05" stroke="#000" stroke-width="0.65" fill="none"/>
<text x="209.3" y="389.45" font-size="8.3">T</text>
<text x="215.4" y="392.05" font-size="5.6">3P</text>
<text x="227.6" y="389.45" font-size="8.3">,</text>
<text x="232.3" y="389.45" font-size="8.3">p</text>
<text x="236.2" y="392.45" font-size="5.3">T</text>
<path d="M247.40 384.85h-1.9a2.15 2.15 0 0 0 0 4.3h1.9M247.40 387.00h-3.8" stroke="#000" stroke-width="0.6" fill="none"/>
<text x="250.5" y="389.45" font-size="8.3">[0.3,0.4] TeV</text>
<path d="M209.9 397.45L208.2 400.55L209.9 403.65M222.8 397.45L224.5 400.55L222.8 403.65" stroke="#000" stroke-width="0.65" fill="none"/>
<text x="209.3" y="402.05" font-size="8.3">T</text>
<text x="215.4" y="404.65" font-size="5.6">3P</text>
<text x="227.6" y="402.05" font-size="8.3">,</text>
<text x="232.3" y="402.05" font-size="8.3">p</text>
<text x="236.2" y="405.05" font-size="5.3">T</text>
<path d="M247.40 397.45h-1.9a2.15 2.15 0 0 0 0 4.3h1.9M247.40 399.60h-3.8" stroke="#000" stroke-width="0.6" fill="none"/>
<text x="250.5" y="402.05" font-size="8.3">[0.5,0.6] TeV</text>
<path d="M209.9 410.05L208.2 413.15L209.9 416.25M222.8 410.05L224.5 413.15L222.8 416.25" stroke="#000" stroke-width="0.65" fill="none"/>
<text x="209.3" y="414.65" font-size="8.3">T</text>
<text x="215.4" y="417.25" font-size="5.6">3P</text>
<text x="227.6" y="414.65" font-size="8.3">,</text>
<text x="232.3" y="414.65" font-size="8.3">p</text>
<text x="236.2" y="417.65" font-size="5.3">T</text>
<path d="M247.40 410.05h-1.9a2.15 2.15 0 0 0 0 4.3h1.9M247.40 412.20h-3.8" stroke="#000" stroke-width="0.6" fill="none"/>
<text x="250.5" y="414.65" font-size="8.3">[1,1.1] TeV</text>
<path d="M209.9 422.65L208.2 425.75L209.9 428.85M222.8 422.65L224.5 425.75L222.8 428.85" stroke="#000" stroke-width="0.65" fill="none"/>
<text x="209.3" y="427.25" font-size="8.3">T</text>
<text x="215.4" y="429.85" font-size="5.6">3P</text>
<text x="227.6" y="427.25" font-size="8.3">,</text>
<path d="M210.2 420.65h4.4" stroke="#000" stroke-width="0.6"/>
<text x="232.6" y="427.25" font-size="8.3">inclusive</text>
<rect x="23.00" y="480.50" width="291.60" height="203.90" fill="none" stroke="#2b2b2b" stroke-width="1"/>
<path d="M23.00 684.40v-5.50 M23.00 480.50v5.50 M30.48 684.40v-3.00 M30.48 480.50v3.00 M37.95 684.40v-3.00 M37.95 480.50v3.00 M45.43 684.40v-3.00 M45.43 480.50v3.00 M52.91 684.40v-3.00 M52.91 480.50v3.00 M60.38 684.40v-5.50 M60.38 480.50v5.50 M67.86 684.40v-3.00 M67.86 480.50v3.00 M75.34 684.40v-3.00 M75.34 480.50v3.00 M82.82 684.40v-3.00 M82.82 480.50v3.00 M90.29 684.40v-3.00 M90.29 480.50v3.00 M97.77 684.40v-5.50 M97.77 480.50v5.50 M105.25 684.40v-3.00 M105.25 480.50v3.00 M112.72 684.40v-3.00 M112.72 480.50v3.00 M120.20 684.40v-3.00 M120.20 480.50v3.00 M127.68 684.40v-3.00 M127.68 480.50v3.00 M135.15 684.40v-5.50 M135.15 480.50v5.50 M142.63 684.40v-3.00 M142.63 480.50v3.00 M150.11 684.40v-3.00 M150.11 480.50v3.00 M157.58 684.40v-3.00 M157.58 480.50v3.00 M165.06 684.40v-3.00 M165.06 480.50v3.00 M172.54 684.40v-5.50 M172.54 480.50v5.50 M180.02 684.40v-3.00 M180.02 480.50v3.00 M187.49 684.40v-3.00 M187.49 480.50v3.00 M194.97 684.40v-3.00 M194.97 480.50v3.00 M202.45 684.40v-3.00 M202.45 480.50v3.00 M209.92 684.40v-5.50 M209.92 480.50v5.50 M217.40 684.40v-3.00 M217.40 480.50v3.00 M224.88 684.40v-3.00 M224.88 480.50v3.00 M232.35 684.40v-3.00 M232.35 480.50v3.00 M239.83 684.40v-3.00 M239.83 480.50v3.00 M247.31 684.40v-5.50 M247.31 480.50v5.50 M254.78 684.40v-3.00 M254.78 480.50v3.00 M262.26 684.40v-3.00 M262.26 480.50v3.00 M269.74 684.40v-3.00 M269.74 480.50v3.00 M277.22 684.40v-3.00 M277.22 480.50v3.00 M284.69 684.40v-5.50 M284.69 480.50v5.50 M292.17 684.40v-3.00 M292.17 480.50v3.00 M299.65 684.40v-3.00 M299.65 480.50v3.00 M307.12 684.40v-3.00 M307.12 480.50v3.00 M314.60 684.40v-3.00 M314.60 480.50v3.00 M23.00 480.50h5.50 M314.60 480.50h-5.50 M23.00 486.33h3.00 M314.60 486.33h-3.00 M23.00 492.15h3.00 M314.60 492.15h-3.00 M23.00 497.98h3.00 M314.60 497.98h-3.00 M23.00 503.80h3.00 M314.60 503.80h-3.00 M23.00 509.63h5.50 M314.60 509.63h-5.50 M23.00 515.45h3.00 M314.60 515.45h-3.00 M23.00 521.28h3.00 M314.60 521.28h-3.00 M23.00 527.11h3.00 M314.60 527.11h-3.00 M23.00 532.93h3.00 M314.60 532.93h-3.00 M23.00 538.76h5.50 M314.60 538.76h-5.50 M23.00 544.58h3.00 M314.60 544.58h-3.00 M23.00 550.41h3.00 M314.60 550.41h-3.00 M23.00 556.23h3.00 M314.60 556.23h-3.00 M23.00 562.06h3.00 M314.60 562.06h-3.00 M23.00 567.89h5.50 M314.60 567.89h-5.50 M23.00 573.71h3.00 M314.60 573.71h-3.00 M23.00 579.54h3.00 M314.60 579.54h-3.00 M23.00 585.36h3.00 M314.60 585.36h-3.00 M23.00 591.19h3.00 M314.60 591.19h-3.00 M23.00 597.01h5.50 M314.60 597.01h-5.50 M23.00 602.84h3.00 M314.60 602.84h-3.00 M23.00 608.67h3.00 M314.60 608.67h-3.00 M23.00 614.49h3.00 M314.60 614.49h-3.00 M23.00 620.32h3.00 M314.60 620.32h-3.00 M23.00 626.14h5.50 M314.60 626.14h-5.50 M23.00 631.97h3.00 M314.60 631.97h-3.00 M23.00 637.79h3.00 M314.60 637.79h-3.00 M23.00 643.62h3.00 M314.60 643.62h-3.00 M23.00 649.45h3.00 M314.60 649.45h-3.00 M23.00 655.27h5.50 M314.60 655.27h-5.50 M23.00 661.10h3.00 M314.60 661.10h-3.00 M23.00 666.92h3.00 M314.60 666.92h-3.00 M23.00 672.75h3.00 M314.60 672.75h-3.00 M23.00 678.57h3.00 M314.60 678.57h-3.00 M23.00 684.40h5.50 M314.60 684.40h-5.50" stroke="#2b2b2b" stroke-width="1" fill="none"/>
<text x="23.00" y="694.10" font-size="9.7" text-anchor="middle">-9</text>
<text x="60.38" y="694.10" font-size="9.7" text-anchor="middle">-8</text>
<text x="97.77" y="694.10" font-size="9.7" text-anchor="middle">-7</text>
<text x="135.15" y="694.10" font-size="9.7" text-anchor="middle">-6</text>
<text x="172.54" y="694.10" font-size="9.7" text-anchor="middle">-5</text>
<text x="209.92" y="694.10" font-size="9.7" text-anchor="middle">-4</text>
<text x="247.31" y="694.10" font-size="9.7" text-anchor="middle">-3</text>
<text x="284.69" y="694.10" font-size="9.7" text-anchor="middle">-2</text>
<text x="20.00" y="483.70" font-size="9.7" text-anchor="end">4</text>
<text x="20.00" y="512.83" font-size="9.7" text-anchor="end">3</text>
<text x="20.00" y="541.96" font-size="9.7" text-anchor="end">2</text>
<text x="20.00" y="571.09" font-size="9.7" text-anchor="end">1</text>
<text x="20.00" y="600.21" font-size="9.7" text-anchor="end">0</text>
<text x="20.00" y="629.34" font-size="9.7" text-anchor="end">-1</text>
<text x="20.00" y="658.47" font-size="9.7" text-anchor="end">-2</text>
<text x="20.00" y="687.60" font-size="9.7" text-anchor="end">-3</text>
<text x="168.80" y="703.90" font-size="10.5" text-anchor="middle">ρ</text>
<text x="0" y="0" font-size="10.8" text-anchor="middle" transform="translate(6.9 582.45) rotate(-90)">average</text>
<path d="M23.60 501.60h2.6v2.6h-2.6zM27.34 512.50h2.6v2.6h-2.6zM31.08 519.50h2.6v2.6h-2.6zM34.82 522.40h2.6v2.6h-2.6zM38.56 524.40h2.6v2.6h-2.6zM42.30 527.70h2.6v2.6h-2.6zM46.04 530.50h2.6v2.6h-2.6zM49.78 529.70h2.6v2.6h-2.6zM53.52 534.00h2.6v2.6h-2.6zM57.26 539.30h2.6v2.6h-2.6zM61.00 543.40h2.6v2.6h-2.6zM64.74 541.00h2.6v2.6h-2.6zM68.48 545.40h2.6v2.6h-2.6zM72.22 551.00h2.6v2.6h-2.6zM75.96 551.30h2.6v2.6h-2.6zM79.70 554.20h2.6v2.6h-2.6zM83.44 556.20h2.6v2.6h-2.6zM87.18 557.70h2.6v2.6h-2.6zM90.92 559.70h2.6v2.6h-2.6zM94.66 562.30h2.6v2.6h-2.6zM98.40 564.70h2.6v2.6h-2.6zM102.14 566.50h2.6v2.6h-2.6zM105.88 570.00h2.6v2.6h-2.6zM109.62 572.30h2.6v2.6h-2.6zM113.36 574.30h2.6v2.6h-2.6zM117.10 575.70h2.6v2.6h-2.6zM120.84 577.60h2.6v2.6h-2.6zM124.58 578.70h2.6v2.6h-2.6zM128.32 580.50h2.6v2.6h-2.6zM132.06 582.00h2.6v2.6h-2.6zM135.80 584.30h2.6v2.6h-2.6zM139.54 587.10h2.6v2.6h-2.6zM143.28 588.70h2.6v2.6h-2.6zM147.02 589.80h2.6v2.6h-2.6zM150.76 591.60h2.6v2.6h-2.6zM154.50 592.80h2.6v2.6h-2.6zM158.24 595.10h2.6v2.6h-2.6zM161.98 595.10h2.6v2.6h-2.6zM165.72 596.30h2.6v2.6h-2.6zM169.46 598.00h2.6v2.6h-2.6zM173.20 598.40h2.6v2.6h-2.6zM176.94 600.10h2.6v2.6h-2.6zM180.68 601.30h2.6v2.6h-2.6zM184.42 602.10h2.6v2.6h-2.6zM188.16 602.50h2.6v2.6h-2.6zM191.90 603.70h2.6v2.6h-2.6zM195.64 603.90h2.6v2.6h-2.6zM199.38 604.80h2.6v2.6h-2.6zM203.12 606.20h2.6v2.6h-2.6zM206.86 606.20h2.6v2.6h-2.6zM210.60 606.80h2.6v2.6h-2.6zM214.34 606.20h2.6v2.6h-2.6zM218.08 606.80h2.6v2.6h-2.6zM221.82 606.80h2.6v2.6h-2.6zM225.56 606.50h2.6v2.6h-2.6zM229.30 606.50h2.6v2.6h-2.6zM233.04 606.00h2.6v2.6h-2.6zM236.78 605.60h2.6v2.6h-2.6zM240.52 604.00h2.6v2.6h-2.6zM244.26 602.80h2.6v2.6h-2.6zM248.00 602.70h2.6v2.6h-2.6zM251.74 602.10h2.6v2.6h-2.6zM255.48 600.60h2.6v2.6h-2.6zM259.22 599.80h2.6v2.6h-2.6zM262.96 600.60h2.6v2.6h-2.6zM266.70 597.40h2.6v2.6h-2.6zM270.44 596.50h2.6v2.6h-2.6zM274.18 595.40h2.6v2.6h-2.6zM277.92 594.20h2.6v2.6h-2.6zM281.66 593.60h2.6v2.6h-2.6zM285.40 594.20h2.6v2.6h-2.6zM289.14 592.50h2.6v2.6h-2.6zM292.88 596.90h2.6v2.6h-2.6zM296.62 603.90h2.6v2.6h-2.6zM300.36 609.60h2.6v2.6h-2.6zM304.10 613.10h2.6v2.6h-2.6zM307.84 622.80h2.6v2.6h-2.6zM311.58 626.00h2.6v2.6h-2.6z" fill="#000"/>
<g fill="#0000ff"><circle cx="24.90" cy="521.30" r="1.42"/><circle cx="28.64" cy="527.70" r="1.42"/><circle cx="32.38" cy="532.10" r="1.42"/><circle cx="36.12" cy="532.90" r="1.42"/><circle cx="39.86" cy="533.30" r="1.42"/><circle cx="43.60" cy="537.40" r="1.42"/><circle cx="47.34" cy="533.50" r="1.42"/><circle cx="51.08" cy="540.90" r="1.42"/><circle cx="54.82" cy="545.50" r="1.42"/><circle cx="58.56" cy="546.50" r="1.42"/><circle cx="62.30" cy="547.90" r="1.42"/><circle cx="66.04" cy="550.80" r="1.42"/><circle cx="69.78" cy="552.80" r="1.42"/><circle cx="73.52" cy="555.50" r="1.42"/><circle cx="77.26" cy="558.40" r="1.42"/><circle cx="81.00" cy="559.30" r="1.42"/><circle cx="84.74" cy="559.60" r="1.42"/><circle cx="88.48" cy="561.70" r="1.42"/><circle cx="92.22" cy="564.00" r="1.42"/><circle cx="95.96" cy="564.00" r="1.42"/><circle cx="99.70" cy="567.20" r="1.42"/><circle cx="103.44" cy="568.40" r="1.42"/><circle cx="107.18" cy="570.10" r="1.42"/><circle cx="110.92" cy="572.40" r="1.42"/><circle cx="114.66" cy="573.60" r="1.42"/><circle cx="118.40" cy="575.90" r="1.42"/><circle cx="122.14" cy="577.10" r="1.42"/><circle cx="125.88" cy="578.90" r="1.42"/><circle cx="129.62" cy="579.80" r="1.42"/><circle cx="133.36" cy="582.60" r="1.42"/><circle cx="137.10" cy="581.20" r="1.42"/><circle cx="140.84" cy="584.50" r="1.42"/><circle cx="144.58" cy="585.90" r="1.42"/><circle cx="148.32" cy="587.30" r="1.42"/><circle cx="152.06" cy="588.20" r="1.42"/><circle cx="155.80" cy="589.10" r="1.42"/><circle cx="159.54" cy="590.00" r="1.42"/><circle cx="163.28" cy="591.70" r="1.42"/><circle cx="167.02" cy="593.10" r="1.42"/><circle cx="170.76" cy="592.70" r="1.42"/><circle cx="174.50" cy="592.90" r="1.42"/><circle cx="178.24" cy="595.50" r="1.42"/><circle cx="181.98" cy="595.00" r="1.42"/><circle cx="185.72" cy="595.50" r="1.42"/><circle cx="189.46" cy="595.80" r="1.42"/><circle cx="193.20" cy="597.30" r="1.42"/><circle cx="196.94" cy="597.00" r="1.42"/><circle cx="200.68" cy="598.10" r="1.42"/><circle cx="204.42" cy="597.80" r="1.42"/><circle cx="208.16" cy="597.60" r="1.42"/><circle cx="211.90" cy="597.00" r="1.42"/><circle cx="215.64" cy="598.50" r="1.42"/><circle cx="219.38" cy="599.30" r="1.42"/><circle cx="223.12" cy="597.00" r="1.42"/><circle cx="226.86" cy="596.20" r="1.42"/><circle cx="230.60" cy="596.20" r="1.42"/><circle cx="234.34" cy="595.50" r="1.42"/><circle cx="238.08" cy="593.80" r="1.42"/><circle cx="241.82" cy="595.00" r="1.42"/><circle cx="245.56" cy="593.50" r="1.42"/><circle cx="249.30" cy="592.60" r="1.42"/><circle cx="253.04" cy="591.70" r="1.42"/><circle cx="256.78" cy="589.60" r="1.42"/><circle cx="260.52" cy="591.70" r="1.42"/><circle cx="264.26" cy="587.90" r="1.42"/><circle cx="268.00" cy="587.90" r="1.42"/><circle cx="271.74" cy="586.70" r="1.42"/><circle cx="275.48" cy="584.50" r="1.42"/><circle cx="279.22" cy="585.60" r="1.42"/><circle cx="282.96" cy="584.50" r="1.42"/><circle cx="286.70" cy="585.30" r="1.42"/><circle cx="290.44" cy="584.50" r="1.42"/><circle cx="294.18" cy="590.20" r="1.42"/><circle cx="297.92" cy="594.60" r="1.42"/><circle cx="301.66" cy="602.20" r="1.42"/><circle cx="305.40" cy="610.80" r="1.42"/><circle cx="309.14" cy="609.20" r="1.42"/><circle cx="312.88" cy="616.20" r="1.42"/></g>
<path d="M24.90 526.35l1.55 2.75h-3.1zM28.64 529.45l1.55 2.75h-3.1zM32.38 532.65l1.55 2.75h-3.1zM36.12 534.55l1.55 2.75h-3.1zM39.86 536.15l1.55 2.75h-3.1zM43.60 536.55l1.55 2.75h-3.1zM47.34 538.25l1.55 2.75h-3.1zM51.08 542.35l1.55 2.75h-3.1zM54.82 543.25l1.55 2.75h-3.1zM58.56 545.05l1.55 2.75h-3.1zM62.30 546.65l1.55 2.75h-3.1zM66.04 549.35l1.55 2.75h-3.1zM69.78 548.15l1.55 2.75h-3.1zM73.52 551.15l1.55 2.75h-3.1zM77.26 551.35l1.55 2.75h-3.1zM81.00 552.55l1.55 2.75h-3.1zM84.74 555.15l1.55 2.75h-3.1zM88.48 555.15l1.55 2.75h-3.1zM92.22 555.15l1.55 2.75h-3.1zM95.96 558.15l1.55 2.75h-3.1zM99.70 558.55l1.55 2.75h-3.1zM103.44 560.85l1.55 2.75h-3.1zM107.18 561.65l1.55 2.75h-3.1zM110.92 561.65l1.55 2.75h-3.1zM114.66 564.35l1.55 2.75h-3.1zM118.40 564.95l1.55 2.75h-3.1zM122.14 566.65l1.55 2.75h-3.1zM125.88 569.45l1.55 2.75h-3.1zM129.62 570.15l1.55 2.75h-3.1zM133.36 571.35l1.55 2.75h-3.1zM137.10 572.75l1.55 2.75h-3.1zM140.84 574.45l1.55 2.75h-3.1zM144.58 576.25l1.55 2.75h-3.1zM148.32 576.25l1.55 2.75h-3.1zM152.06 578.25l1.55 2.75h-3.1zM155.80 577.65l1.55 2.75h-3.1zM159.54 578.55l1.55 2.75h-3.1zM163.28 579.15l1.55 2.75h-3.1zM167.02 579.75l1.55 2.75h-3.1zM170.76 581.05l1.55 2.75h-3.1zM174.50 580.65l1.55 2.75h-3.1zM178.24 579.95l1.55 2.75h-3.1zM181.98 580.65l1.55 2.75h-3.1zM185.72 579.15l1.55 2.75h-3.1zM189.46 580.65l1.55 2.75h-3.1zM193.20 581.55l1.55 2.75h-3.1zM196.94 580.65l1.55 2.75h-3.1zM200.68 581.15l1.55 2.75h-3.1zM204.42 582.05l1.55 2.75h-3.1zM208.16 581.55l1.55 2.75h-3.1zM211.90 578.05l1.55 2.75h-3.1zM215.64 579.55l1.55 2.75h-3.1zM219.38 578.55l1.55 2.75h-3.1zM223.12 580.35l1.55 2.75h-3.1zM226.86 580.65l1.55 2.75h-3.1zM230.60 577.65l1.55 2.75h-3.1zM234.34 578.05l1.55 2.75h-3.1zM238.08 576.05l1.55 2.75h-3.1zM241.82 575.85l1.55 2.75h-3.1zM245.56 574.15l1.55 2.75h-3.1zM249.30 573.35l1.55 2.75h-3.1zM253.04 572.15l1.55 2.75h-3.1zM256.78 570.65l1.55 2.75h-3.1zM260.52 570.65l1.55 2.75h-3.1zM264.26 571.35l1.55 2.75h-3.1zM268.00 569.85l1.55 2.75h-3.1zM271.74 571.25l1.55 2.75h-3.1zM275.48 568.65l1.55 2.75h-3.1zM279.22 569.25l1.55 2.75h-3.1zM282.96 572.15l1.55 2.75h-3.1zM286.70 572.75l1.55 2.75h-3.1zM290.44 571.55l1.55 2.75h-3.1zM294.18 575.65l1.55 2.75h-3.1zM297.92 586.75l1.55 2.75h-3.1zM301.66 589.05l1.55 2.75h-3.1zM305.40 590.85l1.55 2.75h-3.1zM309.14 612.65l1.55 2.75h-3.1zM312.88 617.85l1.55 2.75h-3.1z" fill="#00a000"/>
<path d="M24.90 605.05l1.55 -2.75h-3.1zM28.64 614.75l1.55 -2.75h-3.1zM32.38 610.95l1.55 -2.75h-3.1zM36.12 613.85l1.55 -2.75h-3.1zM39.86 616.05l1.55 -2.75h-3.1zM43.60 614.75l1.55 -2.75h-3.1zM47.34 612.55l1.55 -2.75h-3.1zM51.08 611.35l1.55 -2.75h-3.1zM54.82 616.15l1.55 -2.75h-3.1zM58.56 614.75l1.55 -2.75h-3.1zM62.30 614.75l1.55 -2.75h-3.1zM66.04 612.45l1.55 -2.75h-3.1zM69.78 614.25l1.55 -2.75h-3.1zM73.52 614.55l1.55 -2.75h-3.1zM77.26 611.85l1.55 -2.75h-3.1zM81.00 612.15l1.55 -2.75h-3.1zM84.74 612.45l1.55 -2.75h-3.1zM88.48 611.35l1.55 -2.75h-3.1zM92.22 611.35l1.55 -2.75h-3.1zM95.96 609.95l1.55 -2.75h-3.1zM99.70 608.85l1.55 -2.75h-3.1zM103.44 607.75l1.55 -2.75h-3.1zM107.18 607.75l1.55 -2.75h-3.1zM110.92 606.45l1.55 -2.75h-3.1zM114.66 605.45l1.55 -2.75h-3.1zM118.40 604.45l1.55 -2.75h-3.1zM122.14 603.05l1.55 -2.75h-3.1zM125.88 602.25l1.55 -2.75h-3.1zM129.62 600.75l1.55 -2.75h-3.1zM133.36 599.55l1.55 -2.75h-3.1zM137.10 599.05l1.55 -2.75h-3.1zM140.84 597.85l1.55 -2.75h-3.1zM144.58 596.95l1.55 -2.75h-3.1zM148.32 595.25l1.55 -2.75h-3.1zM152.06 594.55l1.55 -2.75h-3.1zM155.80 593.75l1.55 -2.75h-3.1zM159.54 592.55l1.55 -2.75h-3.1zM163.28 591.05l1.55 -2.75h-3.1zM167.02 589.65l1.55 -2.75h-3.1zM170.76 587.55l1.55 -2.75h-3.1zM174.50 585.95l1.55 -2.75h-3.1zM178.24 584.45l1.55 -2.75h-3.1zM181.98 582.65l1.55 -2.75h-3.1zM185.72 580.35l1.55 -2.75h-3.1zM189.46 578.25l1.55 -2.75h-3.1zM193.20 576.25l1.55 -2.75h-3.1zM196.94 573.55l1.55 -2.75h-3.1zM200.68 572.35l1.55 -2.75h-3.1zM204.42 570.35l1.55 -2.75h-3.1zM208.16 568.05l1.55 -2.75h-3.1zM211.90 565.35l1.55 -2.75h-3.1zM215.64 562.85l1.55 -2.75h-3.1zM219.38 560.65l1.55 -2.75h-3.1zM223.12 557.55l1.55 -2.75h-3.1zM226.86 554.35l1.55 -2.75h-3.1zM230.60 551.35l1.55 -2.75h-3.1zM234.34 548.25l1.55 -2.75h-3.1zM238.08 544.95l1.55 -2.75h-3.1zM241.82 541.55l1.55 -2.75h-3.1zM245.56 538.45l1.55 -2.75h-3.1zM249.30 534.35l1.55 -2.75h-3.1zM253.04 530.75l1.55 -2.75h-3.1zM256.78 526.45l1.55 -2.75h-3.1zM260.52 522.95l1.55 -2.75h-3.1zM264.26 519.15l1.55 -2.75h-3.1zM268.00 514.75l1.55 -2.75h-3.1zM271.74 510.65l1.55 -2.75h-3.1zM275.48 506.95l1.55 -2.75h-3.1zM279.22 502.85l1.55 -2.75h-3.1zM282.96 499.25l1.55 -2.75h-3.1zM286.70 497.25l1.55 -2.75h-3.1zM290.44 494.55l1.55 -2.75h-3.1zM294.18 493.45l1.55 -2.75h-3.1zM297.92 496.05l1.55 -2.75h-3.1zM301.66 501.55l1.55 -2.75h-3.1zM305.40 501.55l1.55 -2.75h-3.1zM309.14 505.15l1.55 -2.75h-3.1zM312.88 508.65l1.55 -2.75h-3.1z" fill="#ff0000"/>
<rect x="37.60" y="492.20" width="73.00" height="14.80" fill="#fff" stroke="#2b2b2b" stroke-width="1"/>
<text x="41.60" y="502.40" font-size="9.8">2P tagger hi80</text>
<rect x="189.2" y="617.50" width="111.5" height="54.0" fill="#fff" stroke="#2b2b2b" stroke-width="1"/>
<rect x="197.20" y="624.10" width="2.2" height="2.2" fill="#000"/>
<circle cx="198.3" cy="637.80" r="1.2" fill="#0000ff"/>
<path d="M198.3 649.20l1.3 2.3h-2.6z" fill="#00a000"/>
<path d="M198.3 664.20l1.3 -2.3h-2.6z" fill="#ff0000"/>
<path d="M209.9 622.90L208.2 626.00L209.9 629.10M222.8 622.90L224.5 626.00L222.8 629.10" stroke="#000" stroke-width="0.65" fill="none"/>
<text x="209.3" y="627.50" font-size="8.3">T</text>
<text x="215.4" y="630.10" font-size="5.6">2P</text>
<text x="227.6" y="627.50" font-size="8.3">,</text>
<text x="232.3" y="627.50" font-size="8.3">p</text>
<text x="236.2" y="630.50" font-size="5.3">T</text>
<path d="M247.40 622.90h-1.9a2.15 2.15 0 0 0 0 4.3h1.9M247.40 625.05h-3.8" stroke="#000" stroke-width="0.6" fill="none"/>
<text x="250.5" y="627.50" font-size="8.3">[0.3,0.4] TeV</text>
<path d="M209.9 635.50L208.2 638.60L209.9 641.70M222.8 635.50L224.5 638.60L222.8 641.70" stroke="#000" stroke-width="0.65" fill="none"/>
<text x="209.3" y="640.10" font-size="8.3">T</text>
<text x="215.4" y="642.70" font-size="5.6">2P</text>
<text x="227.6" y="640.10" font-size="8.3">,</text>
<text x="232.3" y="640.10" font-size="8.3">p</text>
<text x="236.2" y="643.10" font-size="5.3">T</text>
<path d="M247.40 635.50h-1.9a2.15 2.15 0 0 0 0 4.3h1.9M247.40 637.65h-3.8" stroke="#000" stroke-width="0.6" fill="none"/>
<text x="250.5" y="640.10" font-size="8.3">[0.5,0.6] TeV</text>
<path d="M209.9 648.10L208.2 651.20L209.9 654.30M222.8 648.10L224.5 651.20L222.8 654.30" stroke="#000" stroke-width="0.65" fill="none"/>
<text x="209.3" y="652.70" font-size="8.3">T</text>
<text x="215.4" y="655.30" font-size="5.6">2P</text>
<text x="227.6" y="652.70" font-size="8.3">,</text>
<text x="232.3" y="652.70" font-size="8.3">p</text>
<text x="236.2" y="655.70" font-size="5.3">T</text>
<path d="M247.40 648.10h-1.9a2.15 2.15 0 0 0 0 4.3h1.9M247.40 650.25h-3.8" stroke="#000" stroke-width="0.6" fill="none"/>
<text x="250.5" y="652.70" font-size="8.3">[1,1.1] TeV</text>
<path d="M209.9 660.70L208.2 663.80L209.9 666.90M222.8 660.70L224.5 663.80L222.8 666.90" stroke="#000" stroke-width="0.65" fill="none"/>
<text x="209.3" y="665.30" font-size="8.3">T</text>
<text x="215.4" y="667.90" font-size="5.6">2P</text>
<text x="227.6" y="665.30" font-size="8.3">,</text>
<path d="M210.2 658.70h4.4" stroke="#000" stroke-width="0.6"/>
<text x="232.6" y="665.30" font-size="8.3">inclusive</text>
<rect x="386.50" y="1.50" width="289.90" height="202.80" fill="none" stroke="#2b2b2b" stroke-width="1"/>
<path d="M392.54 204.30v-3.00 M392.54 1.50v3.00 M398.58 204.30v-3.00 M398.58 1.50v3.00 M404.62 204.30v-5.50 M404.62 1.50v5.50 M410.66 204.30v-3.00 M410.66 1.50v3.00 M416.70 204.30v-3.00 M416.70 1.50v3.00 M422.74 204.30v-3.00 M422.74 1.50v3.00 M428.78 204.30v-3.00 M428.78 1.50v3.00 M434.82 204.30v-5.50 M434.82 1.50v5.50 M440.86 204.30v-3.00 M440.86 1.50v3.00 M446.90 204.30v-3.00 M446.90 1.50v3.00 M452.94 204.30v-3.00 M452.94 1.50v3.00 M458.98 204.30v-3.00 M458.98 1.50v3.00 M465.01 204.30v-5.50 M465.01 1.50v5.50 M471.05 204.30v-3.00 M471.05 1.50v3.00 M477.09 204.30v-3.00 M477.09 1.50v3.00 M483.13 204.30v-3.00 M483.13 1.50v3.00 M489.17 204.30v-3.00 M489.17 1.50v3.00 M495.21 204.30v-5.50 M495.21 1.50v5.50 M501.25 204.30v-3.00 M501.25 1.50v3.00 M507.29 204.30v-3.00 M507.29 1.50v3.00 M513.33 204.30v-3.00 M513.33 1.50v3.00 M519.37 204.30v-3.00 M519.37 1.50v3.00 M525.41 204.30v-5.50 M525.41 1.50v5.50 M531.45 204.30v-3.00 M531.45 1.50v3.00 M537.49 204.30v-3.00 M537.49 1.50v3.00 M543.53 204.30v-3.00 M543.53 1.50v3.00 M549.57 204.30v-3.00 M549.57 1.50v3.00 M555.61 204.30v-5.50 M555.61 1.50v5.50 M561.65 204.30v-3.00 M561.65 1.50v3.00 M567.69 204.30v-3.00 M567.69 1.50v3.00 M573.73 204.30v-3.00 M573.73 1.50v3.00 M579.77 204.30v-3.00 M579.77 1.50v3.00 M585.81 204.30v-5.50 M585.81 1.50v5.50 M591.85 204.30v-3.00 M591.85 1.50v3.00 M597.89 204.30v-3.00 M597.89 1.50v3.00 M603.92 204.30v-3.00 M603.92 1.50v3.00 M609.96 204.30v-3.00 M609.96 1.50v3.00 M616.00 204.30v-5.50 M616.00 1.50v5.50 M622.04 204.30v-3.00 M622.04 1.50v3.00 M628.08 204.30v-3.00 M628.08 1.50v3.00 M634.12 204.30v-3.00 M634.12 1.50v3.00 M640.16 204.30v-3.00 M640.16 1.50v3.00 M646.20 204.30v-5.50 M646.20 1.50v5.50 M652.24 204.30v-3.00 M652.24 1.50v3.00 M658.28 204.30v-3.00 M658.28 1.50v3.00 M664.32 204.30v-3.00 M664.32 1.50v3.00 M670.36 204.30v-3.00 M670.36 1.50v3.00 M386.50 198.49h3.00 M676.40 198.49h-3.00 M386.50 195.08h3.00 M676.40 195.08h-3.00 M386.50 192.67h3.00 M676.40 192.67h-3.00 M386.50 190.80h3.00 M676.40 190.80h-3.00 M386.50 189.27h3.00 M676.40 189.27h-3.00 M386.50 187.98h3.00 M676.40 187.98h-3.00 M386.50 186.86h3.00 M676.40 186.86h-3.00 M386.50 185.87h3.00 M676.40 185.87h-3.00 M386.50 184.99h5.50 M676.40 184.99h-5.50 M386.50 179.17h3.00 M676.40 179.17h-3.00 M386.50 175.77h3.00 M676.40 175.77h-3.00 M386.50 173.36h3.00 M676.40 173.36h-3.00 M386.50 171.49h3.00 M676.40 171.49h-3.00 M386.50 169.96h3.00 M676.40 169.96h-3.00 M386.50 168.66h3.00 M676.40 168.66h-3.00 M386.50 167.54h3.00 M676.40 167.54h-3.00 M386.50 166.56h3.00 M676.40 166.56h-3.00 M386.50 165.67h5.50 M676.40 165.67h-5.50 M386.50 159.86h3.00 M676.40 159.86h-3.00 M386.50 156.46h3.00 M676.40 156.46h-3.00 M386.50 154.04h3.00 M676.40 154.04h-3.00 M386.50 152.17h3.00 M676.40 152.17h-3.00 M386.50 150.64h3.00 M676.40 150.64h-3.00 M386.50 149.35h3.00 M676.40 149.35h-3.00 M386.50 148.23h3.00 M676.40 148.23h-3.00 M386.50 147.24h3.00 M676.40 147.24h-3.00 M386.50 146.36h5.50 M676.40 146.36h-5.50 M386.50 140.54h3.00 M676.40 140.54h-3.00 M386.50 137.14h3.00 M676.40 137.14h-3.00 M386.50 134.73h3.00 M676.40 134.73h-3.00 M386.50 132.86h3.00 M676.40 132.86h-3.00 M386.50 131.33h3.00 M676.40 131.33h-3.00 M386.50 130.03h3.00 M676.40 130.03h-3.00 M386.50 128.91h3.00 M676.40 128.91h-3.00 M386.50 127.93h3.00 M676.40 127.93h-3.00 M386.50 127.04h5.50 M676.40 127.04h-5.50 M386.50 121.23h3.00 M676.40 121.23h-3.00 M386.50 117.83h3.00 M676.40 117.83h-3.00 M386.50 115.41h3.00 M676.40 115.41h-3.00 M386.50 113.54h3.00 M676.40 113.54h-3.00 M386.50 112.01h3.00 M676.40 112.01h-3.00 M386.50 110.72h3.00 M676.40 110.72h-3.00 M386.50 109.60h3.00 M676.40 109.60h-3.00 M386.50 108.61h3.00 M676.40 108.61h-3.00 M386.50 107.73h5.50 M676.40 107.73h-5.50 M386.50 101.91h3.00 M676.40 101.91h-3.00 M386.50 98.51h3.00 M676.40 98.51h-3.00 M386.50 96.10h3.00 M676.40 96.10h-3.00 M386.50 94.23h3.00 M676.40 94.23h-3.00 M386.50 92.70h3.00 M676.40 92.70h-3.00 M386.50 91.41h3.00 M676.40 91.41h-3.00 M386.50 90.29h3.00 M676.40 90.29h-3.00 M386.50 89.30h3.00 M676.40 89.30h-3.00 M386.50 88.41h5.50 M676.40 88.41h-5.50 M386.50 82.60h3.00 M676.40 82.60h-3.00 M386.50 79.20h3.00 M676.40 79.20h-3.00 M386.50 76.79h3.00 M676.40 76.79h-3.00 M386.50 74.91h3.00 M676.40 74.91h-3.00 M386.50 73.38h3.00 M676.40 73.38h-3.00 M386.50 72.09h3.00 M676.40 72.09h-3.00 M386.50 70.97h3.00 M676.40 70.97h-3.00 M386.50 69.98h3.00 M676.40 69.98h-3.00 M386.50 69.10h5.50 M676.40 69.10h-5.50 M386.50 63.29h3.00 M676.40 63.29h-3.00 M386.50 59.88h3.00 M676.40 59.88h-3.00 M386.50 57.47h3.00 M676.40 57.47h-3.00 M386.50 55.60h3.00 M676.40 55.60h-3.00 M386.50 54.07h3.00 M676.40 54.07h-3.00 M386.50 52.78h3.00 M676.40 52.78h-3.00 M386.50 51.66h3.00 M676.40 51.66h-3.00 M386.50 50.67h3.00 M676.40 50.67h-3.00 M386.50 49.79h5.50 M676.40 49.79h-5.50 M386.50 43.97h3.00 M676.40 43.97h-3.00 M386.50 40.57h3.00 M676.40 40.57h-3.00 M386.50 38.16h3.00 M676.40 38.16h-3.00 M386.50 36.29h3.00 M676.40 36.29h-3.00 M386.50 34.76h3.00 M676.40 34.76h-3.00 M386.50 33.46h3.00 M676.40 33.46h-3.00 M386.50 32.34h3.00 M676.40 32.34h-3.00 M386.50 31.36h3.00 M676.40 31.36h-3.00 M386.50 30.47h5.50 M676.40 30.47h-5.50 M386.50 24.66h3.00 M676.40 24.66h-3.00 M386.50 21.26h3.00 M676.40 21.26h-3.00 M386.50 18.84h3.00 M676.40 18.84h-3.00 M386.50 16.97h3.00 M676.40 16.97h-3.00 M386.50 15.44h3.00 M676.40 15.44h-3.00 M386.50 14.15h3.00 M676.40 14.15h-3.00 M386.50 13.03h3.00 M676.40 13.03h-3.00 M386.50 12.04h3.00 M676.40 12.04h-3.00 M386.50 11.16h5.50 M676.40 11.16h-5.50 M386.50 5.34h3.00 M676.40 5.34h-3.00 M386.50 1.94h3.00 M676.40 1.94h-3.00" stroke="#2b2b2b" stroke-width="1" fill="none"/>
<text x="404.62" y="214.30" font-size="9.6" text-anchor="middle">50</text>
<text x="434.82" y="214.30" font-size="9.6" text-anchor="middle">100</text>
<text x="465.01" y="214.30" font-size="9.6" text-anchor="middle">150</text>
<text x="495.21" y="214.30" font-size="9.6" text-anchor="middle">200</text>
<text x="525.41" y="214.30" font-size="9.6" text-anchor="middle">250</text>
<text x="555.61" y="214.30" font-size="9.6" text-anchor="middle">300</text>
<text x="585.81" y="214.30" font-size="9.6" text-anchor="middle">350</text>
<text x="616.00" y="214.30" font-size="9.6" text-anchor="middle">400</text>
<text x="646.20" y="214.30" font-size="9.6" text-anchor="middle">450</text>
<text x="676.40" y="214.30" font-size="9.6" text-anchor="middle">500</text>
<text x="384.5" y="16.36" font-size="9.2" text-anchor="end">10<tspan font-size="6.4" dy="-5.2">4</tspan></text>
<text x="384.5" y="35.67" font-size="9.2" text-anchor="end">10<tspan font-size="6.4" dy="-5.2">3</tspan></text>
<text x="384.5" y="54.99" font-size="9.2" text-anchor="end">10<tspan font-size="6.4" dy="-5.2">2</tspan></text>
<text x="384.9" y="72.40" font-size="9.2" text-anchor="end">10</text>
<text x="384.9" y="91.71" font-size="9.2" text-anchor="end">1</text>
<text x="384.5" y="112.93" font-size="9.2" text-anchor="end">10<tspan font-size="6.4" dy="-5.2">-1</tspan></text>
<text x="384.5" y="132.24" font-size="9.2" text-anchor="end">10<tspan font-size="6.4" dy="-5.2">-2</tspan></text>
<text x="384.5" y="151.56" font-size="9.2" text-anchor="end">10<tspan font-size="6.4" dy="-5.2">-3</tspan></text>
<text x="384.5" y="170.87" font-size="9.2" text-anchor="end">10<tspan font-size="6.4" dy="-5.2">-4</tspan></text>
<text x="384.5" y="190.19" font-size="9.2" text-anchor="end">10<tspan font-size="6.4" dy="-5.2">-5</tspan></text>
<text x="384.5" y="209.50" font-size="9.2" text-anchor="end">10<tspan font-size="6.4" dy="-5.2">-6</tspan></text>
<text x="510.7" y="225.50" font-size="10">m<tspan font-size="6.5" dy="2.5">J</tspan><tspan dy="-2.5"> (GeV)</tspan></text>
<text x="0" y="0" font-size="10.5" text-anchor="middle" transform="translate(361.9 102.90) rotate(-90)">σ (arbitrary units)</text>
<path d="M386.50 11.00H398.58V14.20H410.66V17.40H422.74V21.70H434.82V26.60H446.90V33.60H458.98V40.40H471.05V47.20H483.13V53.30H495.21V59.40H507.29V65.30H519.37V69.60H531.45V74.30H543.53V79.30H555.61V83.60H567.69V87.50H579.77V91.10H591.85V94.50H603.92V98.40H616.00V101.60H628.08V104.70H640.16V107.80H652.24V111.80H664.32V114.30H676.40" stroke="#000000" stroke-width="1" fill="none"/>
<path d="M386.50 30.40H398.58V37.50H410.66V42.50H422.74V46.40H434.82V52.40H446.90V58.40H458.98V64.40H471.05V70.00H483.13V74.50H495.21V80.20H507.29V85.40H519.37V89.10H531.45V92.70H543.53V98.40H555.61V101.00H567.69V105.20H579.77V107.40H591.85V109.60H603.92V114.00H616.00V117.90H628.08V120.30H640.16V121.70H652.24V125.90H664.32V126.40H676.40" stroke="#0000ff" stroke-width="1" fill="none"/>
<path d="M386.50 45.30H398.58V56.40H410.66V63.30H422.74V70.10H434.82V76.20H446.90V83.60H458.98V89.30H471.05V95.10H483.13V101.20H495.21V104.70H507.29V107.40H519.37V113.50H531.45V113.50H543.53V120.50H555.61V123.70H567.69V126.80H579.77V130.30H591.85V133.40H603.92V135.80H616.00V137.30H628.08V139.40H640.16V143.30H652.24V147.20H664.32V142.80H676.40" stroke="#00a000" stroke-width="1" fill="none"/>
<path d="M386.50 63.30H398.58V81.00H410.66V86.10H422.74V105.40H434.82V110.60H446.90V104.50H458.98V119.70H471.05V130.50H483.13V131.00H495.21V143.90H507.29V143.60H519.37V143.20H531.45V147.30H543.53V149.50H555.61V145.30H567.69V146.10H579.77V155.30H591.85V160.30H603.92V168.30H616.00V174.60H628.08V156.20H640.16V161.20H652.24V186.30H664.32V176.20H676.40" stroke="#ff0000" stroke-width="1" fill="none"/>
<rect x="595.4" y="16.20" width="63.20" height="51.10" fill="#fff" stroke="#2b2b2b" stroke-width="1"/>
<path d="M598.4 23.30H612.9" stroke="#000000" stroke-width="1"/>
<text x="618.8" y="25.20" font-size="8.2">all T<tspan font-size="5.9" dy="2.8">4P</tspan></text>
<path d="M598.4 35.35H612.9" stroke="#0000ff" stroke-width="1"/>
<text x="618.8" y="37.25" font-size="8.2">T<tspan font-size="5.9" dy="2.8">4P</tspan><tspan dy="-2.8"> ≥ 0.75</tspan></text>
<path d="M598.4 47.40H612.9" stroke="#00a000" stroke-width="1"/>
<text x="618.8" y="49.30" font-size="8.2">T<tspan font-size="5.9" dy="2.8">4P</tspan><tspan dy="-2.8"> ≥ 1.5</tspan></text>
<path d="M598.4 59.45H612.9" stroke="#ff0000" stroke-width="1"/>
<text x="618.8" y="61.35" font-size="8.2">T<tspan font-size="5.9" dy="2.8">4P</tspan><tspan dy="-2.8"> ≥ 2.25</tspan></text>
<rect x="397.70" y="175.40" width="69.70" height="17.20" fill="#fff" stroke="#2b2b2b" stroke-width="1"/>
<text x="401.2" y="188.00" font-size="9.8">4P tagger hi80</text>
<rect x="386.50" y="239.30" width="289.90" height="202.70" fill="none" stroke="#2b2b2b" stroke-width="1"/>
<path d="M392.54 442.00v-3.00 M392.54 239.30v3.00 M398.58 442.00v-3.00 M398.58 239.30v3.00 M404.62 442.00v-5.50 M404.62 239.30v5.50 M410.66 442.00v-3.00 M410.66 239.30v3.00 M416.70 442.00v-3.00 M416.70 239.30v3.00 M422.74 442.00v-3.00 M422.74 239.30v3.00 M428.78 442.00v-3.00 M428.78 239.30v3.00 M434.82 442.00v-5.50 M434.82 239.30v5.50 M440.86 442.00v-3.00 M440.86 239.30v3.00 M446.90 442.00v-3.00 M446.90 239.30v3.00 M452.94 442.00v-3.00 M452.94 239.30v3.00 M458.98 442.00v-3.00 M458.98 239.30v3.00 M465.01 442.00v-5.50 M465.01 239.30v5.50 M471.05 442.00v-3.00 M471.05 239.30v3.00 M477.09 442.00v-3.00 M477.09 239.30v3.00 M483.13 442.00v-3.00 M483.13 239.30v3.00 M489.17 442.00v-3.00 M489.17 239.30v3.00 M495.21 442.00v-5.50 M495.21 239.30v5.50 M501.25 442.00v-3.00 M501.25 239.30v3.00 M507.29 442.00v-3.00 M507.29 239.30v3.00 M513.33 442.00v-3.00 M513.33 239.30v3.00 M519.37 442.00v-3.00 M519.37 239.30v3.00 M525.41 442.00v-5.50 M525.41 239.30v5.50 M531.45 442.00v-3.00 M531.45 239.30v3.00 M537.49 442.00v-3.00 M537.49 239.30v3.00 M543.53 442.00v-3.00 M543.53 239.30v3.00 M549.57 442.00v-3.00 M549.57 239.30v3.00 M555.61 442.00v-5.50 M555.61 239.30v5.50 M561.65 442.00v-3.00 M561.65 239.30v3.00 M567.69 442.00v-3.00 M567.69 239.30v3.00 M573.73 442.00v-3.00 M573.73 239.30v3.00 M579.77 442.00v-3.00 M579.77 239.30v3.00 M585.81 442.00v-5.50 M585.81 239.30v5.50 M591.85 442.00v-3.00 M591.85 239.30v3.00 M597.89 442.00v-3.00 M597.89 239.30v3.00 M603.92 442.00v-3.00 M603.92 239.30v3.00 M609.96 442.00v-3.00 M609.96 239.30v3.00 M616.00 442.00v-5.50 M616.00 239.30v5.50 M622.04 442.00v-3.00 M622.04 239.30v3.00 M628.08 442.00v-3.00 M628.08 239.30v3.00 M634.12 442.00v-3.00 M634.12 239.30v3.00 M640.16 442.00v-3.00 M640.16 239.30v3.00 M646.20 442.00v-5.50 M646.20 239.30v5.50 M652.24 442.00v-3.00 M652.24 239.30v3.00 M658.28 442.00v-3.00 M658.28 239.30v3.00 M664.32 442.00v-3.00 M664.32 239.30v3.00 M670.36 442.00v-3.00 M670.36 239.30v3.00 M386.50 436.19h3.00 M676.40 436.19h-3.00 M386.50 432.79h3.00 M676.40 432.79h-3.00 M386.50 430.38h3.00 M676.40 430.38h-3.00 M386.50 428.51h3.00 M676.40 428.51h-3.00 M386.50 426.98h3.00 M676.40 426.98h-3.00 M386.50 425.69h3.00 M676.40 425.69h-3.00 M386.50 424.57h3.00 M676.40 424.57h-3.00 M386.50 423.58h3.00 M676.40 423.58h-3.00 M386.50 422.70h5.50 M676.40 422.70h-5.50 M386.50 416.88h3.00 M676.40 416.88h-3.00 M386.50 413.48h3.00 M676.40 413.48h-3.00 M386.50 411.07h3.00 M676.40 411.07h-3.00 M386.50 409.20h3.00 M676.40 409.20h-3.00 M386.50 407.67h3.00 M676.40 407.67h-3.00 M386.50 406.38h3.00 M676.40 406.38h-3.00 M386.50 405.26h3.00 M676.40 405.26h-3.00 M386.50 404.27h3.00 M676.40 404.27h-3.00 M386.50 403.39h5.50 M676.40 403.39h-5.50 M386.50 397.58h3.00 M676.40 397.58h-3.00 M386.50 394.18h3.00 M676.40 394.18h-3.00 M386.50 391.77h3.00 M676.40 391.77h-3.00 M386.50 389.90h3.00 M676.40 389.90h-3.00 M386.50 388.37h3.00 M676.40 388.37h-3.00 M386.50 387.08h3.00 M676.40 387.08h-3.00 M386.50 385.96h3.00 M676.40 385.96h-3.00 M386.50 384.97h3.00 M676.40 384.97h-3.00 M386.50 384.09h5.50 M676.40 384.09h-5.50 M386.50 378.27h3.00 M676.40 378.27h-3.00 M386.50 374.88h3.00 M676.40 374.88h-3.00 M386.50 372.46h3.00 M676.40 372.46h-3.00 M386.50 370.59h3.00 M676.40 370.59h-3.00 M386.50 369.06h3.00 M676.40 369.06h-3.00 M386.50 367.77h3.00 M676.40 367.77h-3.00 M386.50 366.65h3.00 M676.40 366.65h-3.00 M386.50 365.66h3.00 M676.40 365.66h-3.00 M386.50 364.78h5.50 M676.40 364.78h-5.50 M386.50 358.97h3.00 M676.40 358.97h-3.00 M386.50 355.57h3.00 M676.40 355.57h-3.00 M386.50 353.16h3.00 M676.40 353.16h-3.00 M386.50 351.29h3.00 M676.40 351.29h-3.00 M386.50 349.76h3.00 M676.40 349.76h-3.00 M386.50 348.47h3.00 M676.40 348.47h-3.00 M386.50 347.35h3.00 M676.40 347.35h-3.00 M386.50 346.36h3.00 M676.40 346.36h-3.00 M386.50 345.48h5.50 M676.40 345.48h-5.50 M386.50 339.66h3.00 M676.40 339.66h-3.00 M386.50 336.27h3.00 M676.40 336.27h-3.00 M386.50 333.85h3.00 M676.40 333.85h-3.00 M386.50 331.98h3.00 M676.40 331.98h-3.00 M386.50 330.45h3.00 M676.40 330.45h-3.00 M386.50 329.16h3.00 M676.40 329.16h-3.00 M386.50 328.04h3.00 M676.40 328.04h-3.00 M386.50 327.05h3.00 M676.40 327.05h-3.00 M386.50 326.17h5.50 M676.40 326.17h-5.50 M386.50 320.36h3.00 M676.40 320.36h-3.00 M386.50 316.96h3.00 M676.40 316.96h-3.00 M386.50 314.55h3.00 M676.40 314.55h-3.00 M386.50 312.68h3.00 M676.40 312.68h-3.00 M386.50 311.15h3.00 M676.40 311.15h-3.00 M386.50 309.86h3.00 M676.40 309.86h-3.00 M386.50 308.74h3.00 M676.40 308.74h-3.00 M386.50 307.75h3.00 M676.40 307.75h-3.00 M386.50 306.87h5.50 M676.40 306.87h-5.50 M386.50 301.06h3.00 M676.40 301.06h-3.00 M386.50 297.66h3.00 M676.40 297.66h-3.00 M386.50 295.24h3.00 M676.40 295.24h-3.00 M386.50 293.37h3.00 M676.40 293.37h-3.00 M386.50 291.84h3.00 M676.40 291.84h-3.00 M386.50 290.55h3.00 M676.40 290.55h-3.00 M386.50 289.43h3.00 M676.40 289.43h-3.00 M386.50 288.45h3.00 M676.40 288.45h-3.00 M386.50 287.56h5.50 M676.40 287.56h-5.50 M386.50 281.75h3.00 M676.40 281.75h-3.00 M386.50 278.35h3.00 M676.40 278.35h-3.00 M386.50 275.94h3.00 M676.40 275.94h-3.00 M386.50 274.07h3.00 M676.40 274.07h-3.00 M386.50 272.54h3.00 M676.40 272.54h-3.00 M386.50 271.25h3.00 M676.40 271.25h-3.00 M386.50 270.13h3.00 M676.40 270.13h-3.00 M386.50 269.14h3.00 M676.40 269.14h-3.00 M386.50 268.26h5.50 M676.40 268.26h-5.50 M386.50 262.45h3.00 M676.40 262.45h-3.00 M386.50 259.05h3.00 M676.40 259.05h-3.00 M386.50 256.63h3.00 M676.40 256.63h-3.00 M386.50 254.76h3.00 M676.40 254.76h-3.00 M386.50 253.24h3.00 M676.40 253.24h-3.00 M386.50 251.94h3.00 M676.40 251.94h-3.00 M386.50 250.82h3.00 M676.40 250.82h-3.00 M386.50 249.84h3.00 M676.40 249.84h-3.00 M386.50 248.95h5.50 M676.40 248.95h-5.50 M386.50 243.14h3.00 M676.40 243.14h-3.00 M386.50 239.74h3.00 M676.40 239.74h-3.00" stroke="#2b2b2b" stroke-width="1" fill="none"/>
<text x="404.62" y="452.00" font-size="9.6" text-anchor="middle">50</text>
<text x="434.82" y="452.00" font-size="9.6" text-anchor="middle">100</text>
<text x="465.01" y="452.00" font-size="9.6" text-anchor="middle">150</text>
<text x="495.21" y="452.00" font-size="9.6" text-anchor="middle">200</text>
<text x="525.41" y="452.00" font-size="9.6" text-anchor="middle">250</text>
<text x="555.61" y="452.00" font-size="9.6" text-anchor="middle">300</text>
<text x="585.81" y="452.00" font-size="9.6" text-anchor="middle">350</text>
<text x="616.00" y="452.00" font-size="9.6" text-anchor="middle">400</text>
<text x="646.20" y="452.00" font-size="9.6" text-anchor="middle">450</text>
<text x="676.40" y="452.00" font-size="9.6" text-anchor="middle">500</text>
<text x="384.5" y="254.15" font-size="9.2" text-anchor="end">10<tspan font-size="6.4" dy="-5.2">4</tspan></text>
<text x="384.5" y="273.46" font-size="9.2" text-anchor="end">10<tspan font-size="6.4" dy="-5.2">3</tspan></text>
<text x="384.5" y="292.76" font-size="9.2" text-anchor="end">10<tspan font-size="6.4" dy="-5.2">2</tspan></text>
<text x="384.9" y="310.17" font-size="9.2" text-anchor="end">10</text>
<text x="384.9" y="329.47" font-size="9.2" text-anchor="end">1</text>
<text x="384.5" y="350.68" font-size="9.2" text-anchor="end">10<tspan font-size="6.4" dy="-5.2">-1</tspan></text>
<text x="384.5" y="369.98" font-size="9.2" text-anchor="end">10<tspan font-size="6.4" dy="-5.2">-2</tspan></text>
<text x="384.5" y="389.29" font-size="9.2" text-anchor="end">10<tspan font-size="6.4" dy="-5.2">-3</tspan></text>
<text x="384.5" y="408.59" font-size="9.2" text-anchor="end">10<tspan font-size="6.4" dy="-5.2">-4</tspan></text>
<text x="384.5" y="427.90" font-size="9.2" text-anchor="end">10<tspan font-size="6.4" dy="-5.2">-5</tspan></text>
<text x="384.5" y="447.20" font-size="9.2" text-anchor="end">10<tspan font-size="6.4" dy="-5.2">-6</tspan></text>
<text x="510.7" y="463.20" font-size="10">m<tspan font-size="6.5" dy="2.5">J</tspan><tspan dy="-2.5"> (GeV)</tspan></text>
<text x="0" y="0" font-size="10.5" text-anchor="middle" transform="translate(361.9 340.65) rotate(-90)">σ (arbitrary units)</text>
<path d="M386.50 249.20H398.58V252.00H410.66V255.30H422.74V259.40H434.82V264.40H446.90V271.30H458.98V278.30H471.05V285.30H483.13V291.20H495.21V297.30H507.29V302.80H519.37V307.20H531.45V312.40H543.53V316.70H555.61V321.20H567.69V325.50H579.77V328.30H591.85V332.30H603.92V336.00H616.00V339.50H628.08V342.60H640.16V345.40H652.24V349.40H664.32V352.20H676.40" stroke="#000000" stroke-width="1" fill="none"/>
<path d="M386.50 269.30H398.58V276.40H410.66V279.40H422.74V281.40H434.82V285.30H446.90V290.80H458.98V296.40H471.05V302.30H483.13V306.40H495.21V311.00H507.29V316.00H519.37V319.50H531.45V323.40H543.53V327.30H555.61V331.20H567.69V335.00H579.77V337.30H591.85V340.30H603.92V343.60H616.00V347.50H628.08V350.40H640.16V352.20H652.24V356.50H664.32V357.50H676.40" stroke="#0000ff" stroke-width="1" fill="none"/>
<path d="M386.50 282.20H398.58V291.30H410.66V294.10H422.74V297.80H434.82V300.60H446.90V307.20H458.98V311.40H471.05V317.40H483.13V319.20H495.21V325.90H507.29V330.20H519.37V333.40H531.45V336.30H543.53V340.80H555.61V344.30H567.69V347.20H579.77V348.40H591.85V351.00H603.92V355.20H616.00V359.30H628.08V360.70H640.16V363.40H652.24V366.70H664.32V367.40H676.40" stroke="#00a000" stroke-width="1" fill="none"/>
<path d="M386.50 297.40H398.58V310.10H410.66V312.20H422.74V317.60H434.82V325.00H446.90V324.50H458.98V330.60H471.05V336.50H483.13V340.10H495.21V345.50H507.29V349.70H519.37V351.10H531.45V355.20H543.53V361.90H555.61V361.30H567.69V364.90H579.77V369.10H591.85V371.90H603.92V374.40H616.00V377.30H628.08V377.70H640.16V379.70H652.24V384.10H664.32V384.10H676.40" stroke="#ff0000" stroke-width="1" fill="none"/>
<rect x="595.4" y="253.90" width="63.20" height="51.50" fill="#fff" stroke="#2b2b2b" stroke-width="1"/>
<path d="M598.4 261.10H612.9" stroke="#000000" stroke-width="1"/>
<text x="618.8" y="263.00" font-size="8.2">all T<tspan font-size="5.9" dy="2.8">3P</tspan></text>
<path d="M598.4 273.15H612.9" stroke="#0000ff" stroke-width="1"/>
<text x="618.8" y="275.05" font-size="8.2">T<tspan font-size="5.9" dy="2.8">3P</tspan><tspan dy="-2.8"> ≥ 0.75</tspan></text>
<path d="M598.4 285.20H612.9" stroke="#00a000" stroke-width="1"/>
<text x="618.8" y="287.10" font-size="8.2">T<tspan font-size="5.9" dy="2.8">3P</tspan><tspan dy="-2.8"> ≥ 1.5</tspan></text>
<path d="M598.4 297.25H612.9" stroke="#ff0000" stroke-width="1"/>
<text x="618.8" y="299.15" font-size="8.2">T<tspan font-size="5.9" dy="2.8">3P</tspan><tspan dy="-2.8"> ≥ 2.25</tspan></text>
<rect x="398.40" y="415.30" width="70.10" height="14.60" fill="#fff" stroke="#2b2b2b" stroke-width="1"/>
<text x="401.2" y="425.90" font-size="9.8">3P tagger hi80</text>
<rect x="386.50" y="477.60" width="289.90" height="202.30" fill="none" stroke="#2b2b2b" stroke-width="1"/>
<path d="M392.54 679.90v-3.00 M392.54 477.60v3.00 M398.58 679.90v-3.00 M398.58 477.60v3.00 M404.62 679.90v-5.50 M404.62 477.60v5.50 M410.66 679.90v-3.00 M410.66 477.60v3.00 M416.70 679.90v-3.00 M416.70 477.60v3.00 M422.74 679.90v-3.00 M422.74 477.60v3.00 M428.78 679.90v-3.00 M428.78 477.60v3.00 M434.82 679.90v-5.50 M434.82 477.60v5.50 M440.86 679.90v-3.00 M440.86 477.60v3.00 M446.90 679.90v-3.00 M446.90 477.60v3.00 M452.94 679.90v-3.00 M452.94 477.60v3.00 M458.98 679.90v-3.00 M458.98 477.60v3.00 M465.01 679.90v-5.50 M465.01 477.60v5.50 M471.05 679.90v-3.00 M471.05 477.60v3.00 M477.09 679.90v-3.00 M477.09 477.60v3.00 M483.13 679.90v-3.00 M483.13 477.60v3.00 M489.17 679.90v-3.00 M489.17 477.60v3.00 M495.21 679.90v-5.50 M495.21 477.60v5.50 M501.25 679.90v-3.00 M501.25 477.60v3.00 M507.29 679.90v-3.00 M507.29 477.60v3.00 M513.33 679.90v-3.00 M513.33 477.60v3.00 M519.37 679.90v-3.00 M519.37 477.60v3.00 M525.41 679.90v-5.50 M525.41 477.60v5.50 M531.45 679.90v-3.00 M531.45 477.60v3.00 M537.49 679.90v-3.00 M537.49 477.60v3.00 M543.53 679.90v-3.00 M543.53 477.60v3.00 M549.57 679.90v-3.00 M549.57 477.60v3.00 M555.61 679.90v-5.50 M555.61 477.60v5.50 M561.65 679.90v-3.00 M561.65 477.60v3.00 M567.69 679.90v-3.00 M567.69 477.60v3.00 M573.73 679.90v-3.00 M573.73 477.60v3.00 M579.77 679.90v-3.00 M579.77 477.60v3.00 M585.81 679.90v-5.50 M585.81 477.60v5.50 M591.85 679.90v-3.00 M591.85 477.60v3.00 M597.89 679.90v-3.00 M597.89 477.60v3.00 M603.92 679.90v-3.00 M603.92 477.60v3.00 M609.96 679.90v-3.00 M609.96 477.60v3.00 M616.00 679.90v-5.50 M616.00 477.60v5.50 M622.04 679.90v-3.00 M622.04 477.60v3.00 M628.08 679.90v-3.00 M628.08 477.60v3.00 M634.12 679.90v-3.00 M634.12 477.60v3.00 M640.16 679.90v-3.00 M640.16 477.60v3.00 M646.20 679.90v-5.50 M646.20 477.60v5.50 M652.24 679.90v-3.00 M652.24 477.60v3.00 M658.28 679.90v-3.00 M658.28 477.60v3.00 M664.32 679.90v-3.00 M664.32 477.60v3.00 M670.36 679.90v-3.00 M670.36 477.60v3.00 M386.50 674.10h3.00 M676.40 674.10h-3.00 M386.50 670.71h3.00 M676.40 670.71h-3.00 M386.50 668.30h3.00 M676.40 668.30h-3.00 M386.50 666.43h3.00 M676.40 666.43h-3.00 M386.50 664.91h3.00 M676.40 664.91h-3.00 M386.50 663.62h3.00 M676.40 663.62h-3.00 M386.50 662.50h3.00 M676.40 662.50h-3.00 M386.50 661.51h3.00 M676.40 661.51h-3.00 M386.50 660.63h5.50 M676.40 660.63h-5.50 M386.50 654.83h3.00 M676.40 654.83h-3.00 M386.50 651.44h3.00 M676.40 651.44h-3.00 M386.50 649.03h3.00 M676.40 649.03h-3.00 M386.50 647.17h3.00 M676.40 647.17h-3.00 M386.50 645.64h3.00 M676.40 645.64h-3.00 M386.50 644.35h3.00 M676.40 644.35h-3.00 M386.50 643.23h3.00 M676.40 643.23h-3.00 M386.50 642.25h3.00 M676.40 642.25h-3.00 M386.50 641.37h5.50 M676.40 641.37h-5.50 M386.50 635.57h3.00 M676.40 635.57h-3.00 M386.50 632.17h3.00 M676.40 632.17h-3.00 M386.50 629.77h3.00 M676.40 629.77h-3.00 M386.50 627.90h3.00 M676.40 627.90h-3.00 M386.50 626.37h3.00 M676.40 626.37h-3.00 M386.50 625.08h3.00 M676.40 625.08h-3.00 M386.50 623.97h3.00 M676.40 623.97h-3.00 M386.50 622.98h3.00 M676.40 622.98h-3.00 M386.50 622.10h5.50 M676.40 622.10h-5.50 M386.50 616.30h3.00 M676.40 616.30h-3.00 M386.50 612.91h3.00 M676.40 612.91h-3.00 M386.50 610.50h3.00 M676.40 610.50h-3.00 M386.50 608.63h3.00 M676.40 608.63h-3.00 M386.50 607.11h3.00 M676.40 607.11h-3.00 M386.50 605.82h3.00 M676.40 605.82h-3.00 M386.50 604.70h3.00 M676.40 604.70h-3.00 M386.50 603.71h3.00 M676.40 603.71h-3.00 M386.50 602.83h5.50 M676.40 602.83h-5.50 M386.50 597.03h3.00 M676.40 597.03h-3.00 M386.50 593.64h3.00 M676.40 593.64h-3.00 M386.50 591.23h3.00 M676.40 591.23h-3.00 M386.50 589.37h3.00 M676.40 589.37h-3.00 M386.50 587.84h3.00 M676.40 587.84h-3.00 M386.50 586.55h3.00 M676.40 586.55h-3.00 M386.50 585.43h3.00 M676.40 585.43h-3.00 M386.50 584.45h3.00 M676.40 584.45h-3.00 M386.50 583.57h5.50 M676.40 583.57h-5.50 M386.50 577.77h3.00 M676.40 577.77h-3.00 M386.50 574.37h3.00 M676.40 574.37h-3.00 M386.50 571.97h3.00 M676.40 571.97h-3.00 M386.50 570.10h3.00 M676.40 570.10h-3.00 M386.50 568.57h3.00 M676.40 568.57h-3.00 M386.50 567.28h3.00 M676.40 567.28h-3.00 M386.50 566.17h3.00 M676.40 566.17h-3.00 M386.50 565.18h3.00 M676.40 565.18h-3.00 M386.50 564.30h5.50 M676.40 564.30h-5.50 M386.50 558.50h3.00 M676.40 558.50h-3.00 M386.50 555.11h3.00 M676.40 555.11h-3.00 M386.50 552.70h3.00 M676.40 552.70h-3.00 M386.50 550.83h3.00 M676.40 550.83h-3.00 M386.50 549.31h3.00 M676.40 549.31h-3.00 M386.50 548.02h3.00 M676.40 548.02h-3.00 M386.50 546.90h3.00 M676.40 546.90h-3.00 M386.50 545.91h3.00 M676.40 545.91h-3.00 M386.50 545.03h5.50 M676.40 545.03h-5.50 M386.50 539.23h3.00 M676.40 539.23h-3.00 M386.50 535.84h3.00 M676.40 535.84h-3.00 M386.50 533.43h3.00 M676.40 533.43h-3.00 M386.50 531.57h3.00 M676.40 531.57h-3.00 M386.50 530.04h3.00 M676.40 530.04h-3.00 M386.50 528.75h3.00 M676.40 528.75h-3.00 M386.50 527.63h3.00 M676.40 527.63h-3.00 M386.50 526.65h3.00 M676.40 526.65h-3.00 M386.50 525.77h5.50 M676.40 525.77h-5.50 M386.50 519.97h3.00 M676.40 519.97h-3.00 M386.50 516.57h3.00 M676.40 516.57h-3.00 M386.50 514.17h3.00 M676.40 514.17h-3.00 M386.50 512.30h3.00 M676.40 512.30h-3.00 M386.50 510.77h3.00 M676.40 510.77h-3.00 M386.50 509.48h3.00 M676.40 509.48h-3.00 M386.50 508.37h3.00 M676.40 508.37h-3.00 M386.50 507.38h3.00 M676.40 507.38h-3.00 M386.50 506.50h5.50 M676.40 506.50h-5.50 M386.50 500.70h3.00 M676.40 500.70h-3.00 M386.50 497.31h3.00 M676.40 497.31h-3.00 M386.50 494.90h3.00 M676.40 494.90h-3.00 M386.50 493.03h3.00 M676.40 493.03h-3.00 M386.50 491.51h3.00 M676.40 491.51h-3.00 M386.50 490.22h3.00 M676.40 490.22h-3.00 M386.50 489.10h3.00 M676.40 489.10h-3.00 M386.50 488.11h3.00 M676.40 488.11h-3.00 M386.50 487.23h5.50 M676.40 487.23h-5.50 M386.50 481.43h3.00 M676.40 481.43h-3.00 M386.50 478.04h3.00 M676.40 478.04h-3.00" stroke="#2b2b2b" stroke-width="1" fill="none"/>
<text x="404.62" y="689.90" font-size="9.6" text-anchor="middle">50</text>
<text x="434.82" y="689.90" font-size="9.6" text-anchor="middle">100</text>
<text x="465.01" y="689.90" font-size="9.6" text-anchor="middle">150</text>
<text x="495.21" y="689.90" font-size="9.6" text-anchor="middle">200</text>
<text x="525.41" y="689.90" font-size="9.6" text-anchor="middle">250</text>
<text x="555.61" y="689.90" font-size="9.6" text-anchor="middle">300</text>
<text x="585.81" y="689.90" font-size="9.6" text-anchor="middle">350</text>
<text x="616.00" y="689.90" font-size="9.6" text-anchor="middle">400</text>
<text x="646.20" y="689.90" font-size="9.6" text-anchor="middle">450</text>
<text x="676.40" y="689.90" font-size="9.6" text-anchor="middle">500</text>
<text x="384.5" y="492.43" font-size="9.2" text-anchor="end">10<tspan font-size="6.4" dy="-5.2">4</tspan></text>
<text x="384.5" y="511.70" font-size="9.2" text-anchor="end">10<tspan font-size="6.4" dy="-5.2">3</tspan></text>
<text x="384.5" y="530.97" font-size="9.2" text-anchor="end">10<tspan font-size="6.4" dy="-5.2">2</tspan></text>
<text x="384.9" y="548.33" font-size="9.2" text-anchor="end">10</text>
<text x="384.9" y="567.60" font-size="9.2" text-anchor="end">1</text>
<text x="384.5" y="588.77" font-size="9.2" text-anchor="end">10<tspan font-size="6.4" dy="-5.2">-1</tspan></text>
<text x="384.5" y="608.03" font-size="9.2" text-anchor="end">10<tspan font-size="6.4" dy="-5.2">-2</tspan></text>
<text x="384.5" y="627.30" font-size="9.2" text-anchor="end">10<tspan font-size="6.4" dy="-5.2">-3</tspan></text>
<text x="384.5" y="646.57" font-size="9.2" text-anchor="end">10<tspan font-size="6.4" dy="-5.2">-4</tspan></text>
<text x="384.5" y="665.83" font-size="9.2" text-anchor="end">10<tspan font-size="6.4" dy="-5.2">-5</tspan></text>
<text x="384.5" y="685.10" font-size="9.2" text-anchor="end">10<tspan font-size="6.4" dy="-5.2">-6</tspan></text>
<text x="510.7" y="701.10" font-size="10">m<tspan font-size="6.5" dy="2.5">J</tspan><tspan dy="-2.5"> (GeV)</tspan></text>
<text x="0" y="0" font-size="10.5" text-anchor="middle" transform="translate(361.9 578.75) rotate(-90)">σ (arbitrary units)</text>
<path d="M386.50 486.90H398.58V489.80H410.66V493.20H422.74V497.40H434.82V502.40H446.90V509.20H458.98V516.10H471.05V523.10H483.13V528.60H495.21V535.00H507.29V540.50H519.37V545.30H531.45V550.20H543.53V554.30H555.61V559.20H567.69V563.00H579.77V566.50H591.85V569.80H603.92V573.50H616.00V577.40H628.08V580.30H640.16V583.20H652.24V587.60H664.32V589.60H676.40" stroke="#000000" stroke-width="1" fill="none"/>
<path d="M386.50 517.00H398.58V521.50H410.66V521.20H422.74V521.90H434.82V524.70H446.90V531.40H458.98V536.40H471.05V541.50H483.13V546.40H495.21V551.40H507.29V555.80H519.37V559.70H531.45V563.80H543.53V567.50H555.61V571.40H567.69V575.10H579.77V577.30H591.85V580.90H603.92V584.40H616.00V588.40H628.08V590.50H640.16V593.20H652.24V597.60H664.32V598.50H676.40" stroke="#0000ff" stroke-width="1" fill="none"/>
<path d="M386.50 540.30H398.58V547.40H410.66V544.10H422.74V545.30H434.82V548.40H446.90V552.20H458.98V556.50H471.05V563.50H483.13V566.20H495.21V570.00H507.29V575.00H519.37V578.40H531.45V581.50H543.53V583.10H555.61V587.00H567.69V590.10H579.77V593.00H591.85V595.40H603.92V599.10H616.00V603.20H628.08V604.80H640.16V607.20H652.24V610.40H664.32V611.80H676.40" stroke="#00a000" stroke-width="1" fill="none"/>
<path d="M386.50 558.30H398.58V570.60H410.66V568.40H422.74V571.40H434.82V578.80H446.90V575.30H458.98V583.50H471.05V593.60H483.13V584.90H495.21V588.40H507.29V598.90H519.37V598.90H531.45V605.20H543.53V606.30H555.61V606.90H567.69V612.20H579.77V617.20H591.85V617.20H603.92V621.30H616.00V622.10H628.08V623.00H640.16V627.40H652.24V628.30H664.32V628.80H676.40" stroke="#ff0000" stroke-width="1" fill="none"/>
<rect x="595.4" y="491.60" width="57.90" height="50.80" fill="#fff" stroke="#2b2b2b" stroke-width="1"/>
<path d="M598.4 499.40H612.9" stroke="#000000" stroke-width="1"/>
<text x="618.8" y="501.30" font-size="8.2">all T<tspan font-size="5.9" dy="2.8">2P</tspan></text>
<path d="M598.4 511.45H612.9" stroke="#0000ff" stroke-width="1"/>
<text x="618.8" y="513.35" font-size="8.2">T<tspan font-size="5.9" dy="2.8">2P</tspan><tspan dy="-2.8"> ≥ 1.5</tspan></text>
<path d="M598.4 523.50H612.9" stroke="#00a000" stroke-width="1"/>
<text x="618.8" y="525.40" font-size="8.2">T<tspan font-size="5.9" dy="2.8">2P</tspan><tspan dy="-2.8"> ≥ 3</tspan></text>
<path d="M598.4 535.55H612.9" stroke="#ff0000" stroke-width="1"/>
<text x="618.8" y="537.45" font-size="8.2">T<tspan font-size="5.9" dy="2.8">2P</tspan><tspan dy="-2.8"> ≥ 4.5</tspan></text>
<rect x="398.10" y="653.80" width="72.20" height="14.30" fill="#fff" stroke="#2b2b2b" stroke-width="1"/>
<text x="401.2" y="663.90" font-size="9.8">2P tagger hi80</text>
</g>
</svg></body></html>
